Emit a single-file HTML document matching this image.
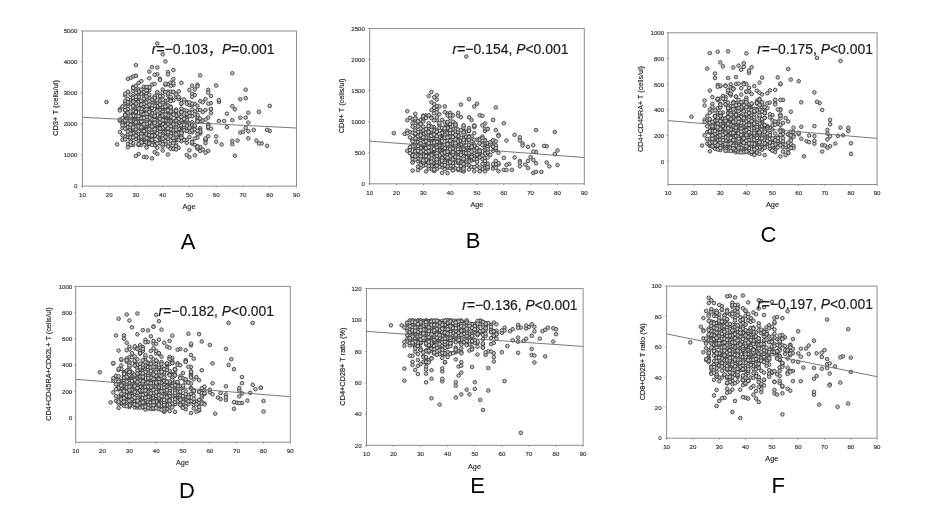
<!DOCTYPE html>
<html><head><meta charset="utf-8"><title>Figure</title>
<style>
html,body{margin:0;padding:0;background:#fff;}
body{width:950px;height:532px;overflow:hidden;}
svg{display:block;}
.tk{font-family:"Liberation Sans", Arial, Helvetica, sans-serif;font-size:6.1px;fill:#383838;stroke:#383838;stroke-width:0.18px;}
.al{font-family:"Liberation Sans", Arial, Helvetica, sans-serif;font-size:7.3px;fill:#2a2a2a;stroke:#2a2a2a;stroke-width:0.18px;}
.an{font-family:"Liberation Sans", Arial, Helvetica, sans-serif;font-size:14.4px;fill:#1c1c1c;stroke:#1c1c1c;stroke-width:0.2px;}
.lt{font-family:"Liberation Sans", Arial, Helvetica, sans-serif;font-size:22px;fill:#000;}
</style></head><body>
<svg width="950" height="532" viewBox="0 0 950 532">
<defs><marker id="m" markerWidth="6" markerHeight="6" refX="3" refY="3" markerUnits="userSpaceOnUse"><circle cx="3" cy="3" r="1.8" fill="#c2c2c2" stroke="#3a3a3a" stroke-width="0.85"/></marker><filter id="bl" x="-2%" y="-2%" width="104%" height="104%"><feGaussianBlur stdDeviation="0.6"/></filter></defs>
<rect width="950" height="532" fill="#fff"/>
<g id="panelA">
<g filter="url(#bl)">
<path d="M127.9 136.7L176.1 146.7L200.2 150.9L135.9 92.7L149.3 133.8L165.4 124.9L165.4 116.7L127.9 124.9L160.0 142.3L157.3 129.3L168.0 72.1L176.1 139.9L157.3 109.3L218.9 121.0L144.0 120.2L160.0 122.7L138.6 118.7L160.0 78.7L168.0 138.8L149.3 78.3L133.2 132.5L162.7 110.0L178.7 127.9L152.0 158.4L197.5 84.7L197.5 110.1L133.2 117.7L146.6 137.7L133.2 116.1L210.9 109.3L162.7 138.0L162.7 109.5L144.0 125.2L149.3 71.6L122.5 106.3L237.6 140.5L170.7 128.3L146.6 127.8L152.0 126.4L138.6 126.2L200.2 133.6L144.0 156.9L168.0 110.2L130.6 121.9L133.2 107.7L154.7 141.8L200.2 109.9L141.3 131.4L138.6 121.1L146.6 109.4L162.7 146.3L144.0 115.8L181.4 140.5L192.1 143.7L186.8 102.2L154.7 104.8L210.9 103.2L160.0 118.3L173.4 122.0L176.1 112.5L173.4 121.7L135.9 132.1L152.0 67.1L119.9 109.2L160.0 100.4L224.2 121.0L170.7 111.8L122.5 128.1L157.3 123.3L157.3 121.8L173.4 85.0L165.4 109.9L130.6 137.9L181.4 103.7L194.8 145.0L165.4 128.3L154.7 115.4L127.9 112.6L141.3 103.0L170.7 108.3L141.3 142.8L125.2 136.6L160.0 122.5L152.0 142.9L157.3 124.9L135.9 109.2L176.1 111.4L184.1 139.7L138.6 126.2L135.9 136.5L130.6 100.5L149.3 136.8L152.0 84.5L133.2 118.9L178.7 147.8L160.0 138.2L149.3 131.3L165.4 115.0L154.7 121.1L152.0 134.5L138.6 104.5L184.1 110.3L149.3 116.8L135.9 135.2L152.0 121.1L138.6 121.8L160.0 96.3L119.9 120.9L138.6 118.8L184.1 128.4L162.7 115.7L197.5 146.2L189.4 90.0L168.0 110.4L181.4 139.5L152.0 107.6L144.0 100.4L133.2 118.5L157.3 108.5L194.8 155.3L138.6 125.2L133.2 122.6L205.5 140.5L168.0 84.3L146.6 127.3L149.3 111.8L146.6 142.2L135.9 101.2L157.3 122.3L130.6 137.6L200.2 75.4L176.1 138.4L154.7 113.2L234.9 155.7L135.9 116.0L154.7 121.1L138.6 101.7L157.3 74.3L208.2 150.9L194.8 111.5L168.0 154.5L133.2 128.6L122.5 123.4L176.1 124.9L149.3 118.9L146.6 124.9L168.0 118.7L130.6 118.6L181.4 82.8L152.0 114.2L149.3 122.4L162.7 126.3L144.0 103.8L146.6 137.6L152.0 130.8L135.9 115.5L130.6 138.0L170.7 132.0L168.0 111.1L125.2 121.9L181.4 136.9L181.4 100.2L138.6 98.1L200.2 147.0L135.9 75.9L144.0 102.4L133.2 127.5L152.0 128.2L162.7 109.0L165.4 112.9L218.9 102.0L138.6 137.1L165.4 61.4L208.2 103.7L226.9 127.2L127.9 104.0L138.6 83.1L141.3 135.3L154.7 136.4L165.4 107.9L216.2 85.5L157.3 147.8L141.3 123.5L165.4 122.1L160.0 135.3L168.0 91.6L165.4 117.3L135.9 103.6L149.3 105.7L144.0 121.5L133.2 127.3L149.3 97.5L149.3 127.8L152.0 135.9L192.1 125.1L146.6 122.4L165.4 133.2L125.2 121.4L181.4 141.2L181.4 116.4L165.4 101.0L170.7 119.5L146.6 122.6L157.3 126.0L189.4 115.7L170.7 120.3L133.2 120.7L154.7 123.0L149.3 90.1L146.6 108.8L149.3 116.7L184.1 119.8L216.2 141.7L154.7 134.6L144.0 121.6L157.3 123.1L176.1 144.5L259.0 111.9L173.4 139.5L125.2 110.5L160.0 107.3L141.3 130.1L133.2 113.7L122.5 139.8L141.3 81.1L173.4 128.8L170.7 133.8L192.1 131.2L269.7 105.9L133.2 86.9L130.6 144.8L149.3 139.5L133.2 100.1L138.6 140.7L149.3 97.9L138.6 137.7L135.9 116.0L248.3 131.2L200.2 101.2L162.7 127.9L146.6 105.9L141.3 117.2L170.7 98.2L160.0 120.2L125.2 95.5L197.5 119.4L189.4 105.0L130.6 103.5L232.3 144.1L160.0 123.4L141.3 109.8L154.7 122.2L146.6 97.4L192.1 132.3L232.3 140.9L170.7 128.1L208.2 128.2L192.1 141.8L162.7 96.2L119.9 119.5L144.0 100.4L168.0 120.0L141.3 122.3L197.5 137.7L181.4 111.5L146.6 92.3L144.0 141.8L130.6 134.7L146.6 114.1L146.6 119.4L127.9 124.5L144.0 86.8L135.9 115.5L135.9 99.5L160.0 125.0L173.4 137.5L152.0 116.7L245.7 127.8L154.7 100.2L176.1 96.7L127.9 128.9L165.4 110.2L170.7 133.5L248.3 138.3L165.4 101.0L154.7 96.9L127.9 105.9L106.5 102.0L181.4 128.0L133.2 127.3L149.3 104.8L157.3 103.4L154.7 104.1L144.0 141.8L152.0 100.4L181.4 113.8L144.0 126.2L205.5 139.8L127.9 122.1L138.6 89.7L146.6 87.1L165.4 126.1L269.7 130.9L181.4 131.9L181.4 133.1L208.2 124.2L162.7 111.8L135.9 116.9L125.2 115.4L189.4 123.0L149.3 116.2L127.9 91.6L176.1 123.3L173.4 140.8L176.1 119.9L162.7 116.8L146.6 117.1L141.3 132.8L135.9 126.4L200.2 128.2L202.8 102.3L200.2 130.0L144.0 92.6L135.9 126.4L186.8 110.7L197.5 118.2L144.0 106.3L267.1 129.9L160.0 125.9L165.4 116.0L144.0 116.1L138.6 145.1L146.6 122.7L157.3 122.1L168.0 106.1L127.9 103.6L144.0 139.8L138.6 90.4L135.9 128.6L208.2 89.9L152.0 140.7L168.0 134.2L146.6 115.2L144.0 117.9L176.1 135.5L170.7 122.3L154.7 152.2L130.6 122.7L135.9 136.0L170.7 91.8L160.0 114.2L138.6 118.1L170.7 109.0L141.3 104.6L154.7 96.2L144.0 124.3L168.0 128.6L154.7 122.5L184.1 121.2L170.7 143.1L154.7 98.1L157.3 129.5L170.7 126.4L133.2 129.5L181.4 127.0L149.3 139.3L170.7 124.6L181.4 111.6L125.2 125.3L127.9 143.9L141.3 125.3L208.2 117.5L162.7 107.1L154.7 116.0L178.7 98.7L176.1 109.5L154.7 118.5L160.0 125.5L152.0 119.3L160.0 106.5L168.0 115.0L152.0 126.3L165.4 132.5L218.9 100.1L165.4 84.8L184.1 128.0L154.7 135.2L176.1 146.4L144.0 138.5L173.4 92.0L157.3 106.5L210.9 113.2L178.7 135.1L162.7 126.0L181.4 134.8L181.4 121.8L152.0 123.8L149.3 128.9L157.3 67.5L178.7 99.0L160.0 79.9L144.0 96.9L165.4 143.4L138.6 127.3L152.0 128.2L173.4 127.3L138.6 89.5L186.8 116.5L181.4 125.5L157.3 120.0L141.3 120.2L149.3 123.0L144.0 134.5L149.3 142.9L146.6 116.2L130.6 123.9L176.1 120.7L248.3 112.7L176.1 121.9L130.6 119.9L127.9 118.8L162.7 102.2L133.2 105.5L202.8 112.1L130.6 94.7L176.1 131.3L154.7 113.4L162.7 117.4L152.0 99.8L130.6 126.8L135.9 123.0L133.2 96.5L117.2 144.4L186.8 115.5L160.0 141.9L162.7 129.1L127.9 127.0L146.6 142.2L192.1 122.2L170.7 121.1L144.0 114.9L154.7 123.2L160.0 126.8L173.4 78.9L208.2 125.0L149.3 142.8L165.4 111.4L135.9 108.4L144.0 109.1L170.7 126.5L146.6 105.5L170.7 147.7L173.4 70.0L189.4 131.9L160.0 125.6L168.0 132.1L138.6 128.7L192.1 105.4L146.6 111.1L154.7 74.8L176.1 114.5L253.7 130.0L135.9 128.7L149.3 110.6L192.1 116.3L170.7 128.2L133.2 87.4L165.4 104.9L135.9 135.5L173.4 100.4L154.7 131.3L149.3 140.0L197.5 117.0L194.8 89.4L146.6 114.7L176.1 129.4L165.4 126.7L152.0 140.7L149.3 129.1L162.7 114.7L186.8 130.9L162.7 89.6L149.3 105.8L162.7 92.7L168.0 100.3L210.9 96.0L248.3 122.6L154.7 83.8L146.6 91.4L133.2 116.7L162.7 99.7L144.0 130.2L173.4 143.2L141.3 100.9L119.9 132.1L135.9 85.8L162.7 123.9L165.4 129.0L157.3 118.7L176.1 123.4L232.3 120.2L130.6 118.8L152.0 113.1L178.7 131.9L133.2 76.4L141.3 139.7L178.7 128.9L162.7 128.1L141.3 117.1L162.7 121.0L133.2 145.0L149.3 111.5L149.3 128.4L144.0 110.9L178.7 91.4L141.3 125.7L245.7 89.7L157.3 43.4L173.4 112.5L162.7 115.2L160.0 139.4L200.2 120.5L173.4 148.8L178.7 125.9L149.3 124.9L141.3 108.0L200.2 121.4L154.7 117.3L154.7 114.7L130.6 129.9L197.5 121.7L261.7 143.4L205.5 140.0L192.1 93.9L221.6 144.6L154.7 144.0L138.6 127.7L178.7 117.9L154.7 125.6L160.0 112.6L149.3 129.0L149.3 123.8L181.4 108.5L141.3 125.5L146.6 146.1L170.7 82.6L162.7 54.3L256.4 140.6L197.5 148.5L149.3 127.1L157.3 120.2L133.2 90.7L194.8 95.1L135.9 138.9L157.3 109.3L186.8 114.7L135.9 120.7L141.3 107.1L240.3 99.3L157.3 121.0L152.0 136.9L154.7 115.8L181.4 120.1L146.6 107.1L186.8 130.8L165.4 144.0L157.3 124.5L245.7 98.2L127.9 137.0L141.3 142.3L146.6 157.2L154.7 144.3L152.0 124.3L176.1 124.4L130.6 138.2L186.8 127.5L210.9 108.9L165.4 127.3L194.8 103.9L152.0 112.8L135.9 122.9L133.2 97.9L162.7 128.4L141.3 120.7L135.9 109.5L141.3 122.9L160.0 119.1L149.3 126.0L125.2 107.4L197.5 148.3L168.0 132.2L146.6 125.5L176.1 133.0L165.4 127.1L154.7 145.3L144.0 102.7L162.7 114.9L170.7 140.6L135.9 111.2L165.4 115.7L149.3 142.0L154.7 105.6L216.2 136.4L149.3 143.9L157.3 100.0L144.0 112.1L160.0 138.4L160.0 110.0L178.7 118.9L144.0 131.0L160.0 133.2L141.3 138.9L192.1 85.8L152.0 106.2L178.7 140.0L138.6 96.8L141.3 93.8L170.7 111.3L176.1 114.1L135.9 114.6L162.7 117.1L122.5 118.4L133.2 114.4L186.8 142.8L154.7 127.3L157.3 106.5L168.0 146.4L141.3 145.0L259.0 143.5L146.6 111.9L152.0 115.4L144.0 136.0L138.6 143.9L154.7 112.6L146.6 112.5L138.6 109.1L152.0 142.4L130.6 137.4L133.2 116.4L127.9 101.4L127.9 118.4L146.6 129.3L146.6 134.2L168.0 95.7L152.0 139.4L127.9 120.4L135.9 99.9L154.7 134.0L160.0 136.6L157.3 106.1L149.3 117.7L205.5 138.5L146.6 90.5L176.1 115.8L181.4 131.6L160.0 104.8L144.0 123.5L173.4 129.6L232.3 106.2L133.2 106.2L125.2 128.7L125.2 102.7L162.7 134.0L130.6 144.8L122.5 135.4L160.0 127.7L133.2 130.3L144.0 109.5L176.1 94.4L181.4 112.1L194.8 138.4L135.9 75.8L146.6 130.1L154.7 123.5L154.7 131.9L170.7 86.0L173.4 92.0L152.0 108.1L165.4 121.3L186.8 124.5L135.9 99.0L184.1 99.4L168.0 105.5L144.0 121.2L189.4 127.9L160.0 136.5L176.1 125.2L144.0 113.6L154.7 119.7L162.7 129.1L130.6 124.1L141.3 140.8L200.2 118.5L154.7 124.6L170.7 148.6L173.4 135.9L176.1 124.6L197.5 146.8L186.8 155.0L130.6 127.0L149.3 142.9L130.6 120.4L186.8 103.7L162.7 119.1L152.0 137.0L245.7 117.5L144.0 116.5L152.0 113.2L197.5 134.0L197.5 105.8L141.3 108.8L192.1 142.3L141.3 113.9L205.5 99.2L189.4 116.2L130.6 116.3L127.9 121.2L197.5 115.0L202.8 120.7L162.7 125.3L181.4 137.7L135.9 125.4L141.3 118.4L176.1 115.5L144.0 91.8L149.3 87.9L133.2 132.8L192.1 96.8L170.7 99.7L144.0 106.2L173.4 130.2L186.8 113.8L141.3 89.6L125.2 100.8L125.2 115.5L154.7 116.4L149.3 135.0L135.9 135.9L170.7 96.8L205.5 110.0L170.7 116.3L133.2 133.3L127.9 134.3L176.1 136.8L157.3 111.2L149.3 87.2L184.1 130.2L154.7 128.7L157.3 123.8L162.7 123.9L197.5 86.2L152.0 133.7L135.9 112.2L240.3 132.5L125.2 139.4L144.0 113.2L176.1 127.6L144.0 136.1L208.2 136.3L162.7 138.7L205.5 119.6L176.1 110.8L146.6 119.2L170.7 136.3L130.6 124.1L135.9 122.0L149.3 134.3L181.4 125.3L141.3 110.1L162.7 110.8L168.0 110.2L197.5 121.3L149.3 110.2L135.9 136.5L205.5 152.7L149.3 122.7L133.2 143.0L146.6 122.2L157.3 127.7L133.2 126.8L168.0 93.5L200.2 132.2L157.3 153.9L173.4 83.2L127.9 123.8L125.2 114.6L157.3 92.6L157.3 136.5L210.9 128.7L141.3 134.0L130.6 119.1L144.0 136.6L189.4 150.3L125.2 119.9L149.3 131.7L162.7 116.4L144.0 103.9L160.0 143.2L146.6 116.8L173.4 124.5L149.3 143.5L152.0 128.0L146.6 138.2L170.7 126.5L149.3 128.7L130.6 139.6L127.9 131.5L162.7 150.5L125.2 93.7L144.0 130.6L146.6 102.4L178.7 96.9L144.0 125.7L149.3 101.3L168.0 121.1L160.0 116.7L189.4 157.1L135.9 116.7L141.3 113.7L162.7 115.5L125.2 120.4L194.8 126.3L152.0 139.8L141.3 121.8L160.0 135.0L130.6 141.9L160.0 117.3L133.2 128.8L186.8 118.4L173.4 148.9L127.9 102.3L189.4 112.5L127.9 109.1L154.7 105.9L144.0 98.6L186.8 119.8L205.5 143.1L133.2 115.8L192.1 109.5L152.0 131.9L154.7 135.8L141.3 143.0L178.7 134.2L267.1 145.8L192.1 129.5L208.2 92.5L125.2 115.2L130.6 124.7L178.7 133.3L141.3 111.4L162.7 111.7L181.4 116.8L138.6 92.9L146.6 90.5L192.1 130.4L189.4 112.8L135.9 96.7L133.2 110.7L162.7 128.0L152.0 144.9L154.7 122.8L133.2 115.7L184.1 119.9L135.9 126.9L135.9 65.2L135.9 122.3L138.6 108.9L154.7 115.9L130.6 120.7L194.8 129.5L160.0 123.2L130.6 137.4L165.4 121.3L170.7 106.7L133.2 87.9L138.6 91.6L200.2 131.5L146.6 106.3L141.3 142.2L157.3 143.5L160.0 122.3L130.6 133.7L243.0 131.7L170.7 129.3L146.6 93.8L165.4 141.2L154.7 135.6L162.7 137.0L192.1 103.6L141.3 108.9L194.8 114.4L138.6 154.0L202.8 149.5L146.6 147.5L133.2 101.7L130.6 78.0L162.7 135.7L141.3 104.5L226.9 113.7L186.8 125.7L149.3 113.2L157.3 129.1L162.7 114.1L168.0 115.4L138.6 126.3L165.4 137.0L119.9 110.5L232.3 73.3L152.0 129.6L165.4 120.8L157.3 131.1L162.7 115.4L184.1 118.8L234.9 109.3L149.3 127.9L189.4 137.1L154.7 130.7L160.0 96.2L189.4 102.3L186.8 139.7L176.1 120.8L165.4 126.1L149.3 135.1L146.6 109.4L127.9 147.2L152.0 105.3L176.1 149.5L135.9 90.8L170.7 107.3L181.4 132.9L170.7 121.4L149.3 129.2L208.2 126.9L144.0 113.5L149.3 94.7L135.9 135.6L165.4 114.5L160.0 131.7L160.0 122.1L173.4 137.9L154.7 129.3L141.3 127.3L135.9 116.0L170.7 100.2L122.5 125.2L144.0 131.2L138.6 144.1L135.9 129.6L160.0 119.0L240.3 117.8L135.9 112.0L152.0 126.5L146.6 123.8L133.2 127.4L162.7 138.7L133.2 115.6L165.4 83.6L144.0 124.4L149.3 104.6L125.2 110.1L127.9 78.8L130.6 111.5L157.3 133.4L149.3 111.9L160.0 128.1L135.9 156.0L138.6 116.1L162.7 120.2L168.0 128.4L173.4 114.6L165.4 92.0L141.3 121.6L176.1 129.7L176.1 134.5L127.9 98.9L165.4 106.5L184.1 140.1L144.0 114.2L162.7 144.2L146.6 113.8L160.0 128.5L168.0 74.4L184.1 124.8L146.6 96.5L197.5 130.7L194.8 125.6L138.6 131.3L133.2 137.4L130.6 116.2L160.0 134.6L157.3 92.2L135.9 92.6L146.6 86.9L181.4 103.4L138.6 108.5L144.0 118.0L141.3 136.6L170.7 101.0L152.0 135.7L173.4 114.7" fill="none" stroke="none" marker-start="url(#m)" marker-mid="url(#m)" marker-end="url(#m)"/>
<line x1="82.4" y1="117.3" x2="296.5" y2="128.0" stroke="#6a6a6a" stroke-width="0.9"/>
<rect x="82.4" y="31.0" width="214.1" height="155.1" fill="none" stroke="#8c8c8c" stroke-width="1"/>
<path d="M82.4 186.1 v1.6 M109.2 186.1 v1.6 M135.9 186.1 v1.6 M162.7 186.1 v1.6 M189.4 186.1 v1.6 M216.2 186.1 v1.6 M243.0 186.1 v1.6 M269.7 186.1 v1.6 M296.5 186.1 v1.6 M82.4 186.1 h-1.6 M82.4 155.1 h-1.6 M82.4 124.1 h-1.6 M82.4 93.0 h-1.6 M82.4 62.0 h-1.6 M82.4 31.0 h-1.6" stroke="#8c8c8c" stroke-width="0.8" fill="none"/>
<text class="tk" x="82.4" y="196.9" text-anchor="middle">10</text><text class="tk" x="109.2" y="196.9" text-anchor="middle">20</text><text class="tk" x="135.9" y="196.9" text-anchor="middle">30</text><text class="tk" x="162.7" y="196.9" text-anchor="middle">40</text><text class="tk" x="189.4" y="196.9" text-anchor="middle">50</text><text class="tk" x="216.2" y="196.9" text-anchor="middle">60</text><text class="tk" x="243.0" y="196.9" text-anchor="middle">70</text><text class="tk" x="269.7" y="196.9" text-anchor="middle">80</text><text class="tk" x="296.5" y="196.9" text-anchor="middle">90</text>
<text class="tk" x="77.3" y="188.3" text-anchor="end">0</text><text class="tk" x="77.3" y="157.3" text-anchor="end">1000</text><text class="tk" x="77.3" y="126.3" text-anchor="end">2000</text><text class="tk" x="77.3" y="95.3" text-anchor="end">3000</text><text class="tk" x="77.3" y="64.3" text-anchor="end">4000</text><text class="tk" x="77.3" y="33.2" text-anchor="end">5000</text>
<text class="al" x="189.0" y="208.5" text-anchor="middle">Age</text>
<text class="al" transform="translate(57.6 108.0) rotate(-90)" x="-28.0" textLength="56.0" lengthAdjust="spacingAndGlyphs">CD3+ T (cells/ul)</text>
</g>
<text class="an" x="151.8" y="54.2" textLength="122.8" lengthAdjust="spacingAndGlyphs"><tspan font-style="italic">r</tspan>=−0.103<tspan lang="zh-CN" font-family='"Liberation Sans","Noto Sans CJK SC",sans-serif'>，</tspan><tspan font-style="italic">P</tspan>=0.001</text>
<text class="lt" x="188.1" y="248.8" text-anchor="middle">A</text>
</g>
<g id="panelB">
<g filter="url(#bl)">
<path d="M450.2 164.6L447.5 145.8L477.0 152.7L423.3 161.0L447.5 130.8L460.9 139.6L528.0 146.8L452.9 166.6L485.0 147.8L418.0 149.5L420.7 139.7L442.1 150.9L447.5 154.2L423.3 141.8L439.4 152.9L420.7 143.8L434.1 132.0L426.0 143.0L407.3 120.2L434.1 135.7L436.8 163.2L490.4 154.9L495.8 149.0L482.4 136.6L474.3 150.0L450.2 125.0L423.3 148.2L415.3 142.3L436.8 150.6L458.2 137.5L452.9 163.1L533.3 173.0L436.8 160.8L466.3 131.5L444.8 161.6L471.6 141.4L428.7 156.4L460.9 156.2L463.6 161.8L458.2 153.4L447.5 143.0L442.1 136.1L452.9 160.3L479.7 154.3L412.6 162.3L431.4 156.0L434.1 156.5L444.8 162.1L463.6 125.5L415.3 139.8L423.3 161.9L455.5 125.5L498.5 152.8L485.0 144.4L444.8 135.8L485.0 143.2L444.8 159.3L415.3 142.5L426.0 142.9L423.3 156.7L426.0 162.3L444.8 158.8L450.2 161.9L412.6 154.4L447.5 148.8L477.0 159.2L428.7 165.3L447.5 167.8L463.6 143.4L444.8 127.2L477.0 166.1L511.9 169.9L428.7 161.4L439.4 106.5L412.6 157.4L439.4 144.5L460.9 145.1L436.8 169.0L434.1 150.2L426.0 147.3L479.7 115.3L431.4 136.9L420.7 119.6L469.0 147.2L442.1 167.3L469.0 154.5L471.6 160.4L450.2 143.1L426.0 155.3L434.1 149.9L442.1 172.9L479.7 155.5L466.3 150.9L434.1 152.3L463.6 166.8L452.9 158.4L418.0 156.3L431.4 153.7L450.2 145.3L452.9 160.2L514.6 134.8L514.6 157.5L442.1 137.7L458.2 158.9L439.4 141.7L442.1 132.7L455.5 156.1L436.8 109.6L450.2 151.8L485.0 152.8L477.0 139.6L420.7 142.4L471.6 120.1L493.1 167.9L447.5 127.5L418.0 150.3L463.6 143.8L420.7 134.5L444.8 130.2L434.1 152.4L439.4 134.0L418.0 147.5L479.7 138.8L442.1 161.4L455.5 157.3L434.1 132.4L418.0 157.1L428.7 135.8L423.3 148.0L450.2 115.9L442.1 147.8L519.9 161.0L444.8 131.0L439.4 154.6L426.0 171.5L428.7 155.8L463.6 153.4L469.0 159.4L519.9 166.3L482.4 159.2L442.1 159.0L452.9 146.9L463.6 153.0L506.5 140.5L469.0 160.4L420.7 154.2L442.1 150.5L469.0 151.3L423.3 152.6L423.3 149.5L522.6 143.5L533.3 145.2L460.9 144.6L434.1 166.0L509.2 163.9L469.0 131.0L450.2 166.7L412.6 159.1L436.8 99.6L447.5 152.1L460.9 158.5L439.4 139.5L426.0 140.2L493.1 142.0L436.8 164.3L434.1 159.0L458.2 141.0L415.3 146.5L450.2 118.2L458.2 148.2L436.8 157.0L423.3 159.7L423.3 151.6L431.4 152.9L528.0 160.9L436.8 158.0L412.6 170.6L436.8 162.9L420.7 158.6L450.2 167.9L423.3 159.3L436.8 158.8L431.4 153.5L404.6 133.9L503.8 123.3L434.1 134.7L415.3 157.0L434.1 160.6L420.7 166.9L431.4 159.1L431.4 169.3L442.1 144.9L458.2 142.9L418.0 146.8L469.0 165.3L487.7 146.0L447.5 149.2L485.0 171.4L466.3 137.8L458.2 135.1L431.4 135.6L431.4 154.5L426.0 147.5L452.9 155.0L426.0 145.4L458.2 140.1L428.7 164.1L431.4 143.7L423.3 134.3L474.3 133.1L418.0 124.6L452.9 115.3L487.7 143.3L431.4 117.3L415.3 122.7L442.1 132.4L450.2 135.1L469.0 161.4L434.1 108.0L420.7 146.1L493.1 168.6L412.6 123.2L428.7 155.0L420.7 162.0L415.3 146.8L439.4 124.9L442.1 163.2L426.0 149.7L423.3 162.0L426.0 148.2L447.5 142.6L463.6 127.6L436.8 142.5L447.5 113.6L431.4 151.5L493.1 146.8L469.0 169.5L447.5 163.0L471.6 167.0L474.3 146.6L415.3 135.3L444.8 166.4L407.3 111.2L428.7 154.1L458.2 161.9L474.3 171.2L536.0 130.1L423.3 151.2L436.8 159.7L452.9 161.7L420.7 152.9L418.0 148.1L498.5 134.8L450.2 164.2L428.7 149.2L479.7 140.1L458.2 153.7L439.4 165.3L415.3 128.3L415.3 148.8L418.0 150.8L485.0 130.9L519.9 137.3L428.7 128.1L418.0 161.3L434.1 163.9L423.3 138.8L479.7 150.0L420.7 155.4L442.1 155.2L434.1 150.5L434.1 148.1L485.0 128.7L439.4 127.8L503.8 157.9L490.4 142.7L444.8 122.5L455.5 150.1L474.3 125.5L455.5 168.3L463.6 140.1L455.5 145.1L420.7 136.2L442.1 138.3L442.1 138.9L469.0 117.3L420.7 144.4L450.2 133.9L412.6 155.8L428.7 162.2L458.2 134.3L442.1 151.4L439.4 143.5L498.5 136.0L463.6 157.1L450.2 135.4L519.9 140.5L458.2 141.8L463.6 153.0L436.8 106.1L450.2 130.6L418.0 153.5L442.1 163.8L436.8 149.9L431.4 153.1L463.6 131.4L460.9 170.5L444.8 150.9L447.5 144.6L498.5 164.6L418.0 139.3L450.2 146.1L455.5 131.5L431.4 150.9L436.8 155.9L436.8 157.7L434.1 162.8L474.3 153.1L479.7 156.9L469.0 156.5L469.0 147.8L439.4 164.8L485.0 123.4L485.0 139.9L450.2 163.4L423.3 154.3L485.0 167.4L557.5 165.1L423.3 130.0L557.5 150.5L495.8 107.5L487.7 147.0L428.7 137.9L485.0 167.8L450.2 148.3L420.7 136.4L423.3 164.4L434.1 107.9L460.9 152.5L466.3 140.8L420.7 167.5L436.8 132.3L434.1 155.7L439.4 150.7L412.6 145.2L444.8 157.6L436.8 120.1L452.9 142.7L452.9 152.2L423.3 160.2L487.7 166.4L423.3 138.9L444.8 147.1L460.9 151.1L442.1 156.1L423.3 153.2L452.9 170.1L452.9 129.3L439.4 147.3L463.6 138.3L439.4 163.5L452.9 165.6L415.3 118.0L431.4 155.1L442.1 154.1L439.4 144.2L466.3 136.8L466.3 159.8L458.2 132.0L409.9 132.1L434.1 127.3L412.6 140.0L447.5 159.7L436.8 136.9L434.1 156.0L426.0 139.1L423.3 162.5L426.0 163.9L436.8 152.8L431.4 146.3L495.8 167.8L444.8 161.4L439.4 137.0L434.1 154.7L426.0 151.8L434.1 130.0L393.8 133.2L434.1 148.7L485.0 140.4L447.5 155.1L415.3 133.9L436.8 117.4L450.2 129.2L415.3 145.4L418.0 155.5L428.7 152.8L418.0 136.3L428.7 153.0L442.1 157.0L442.1 138.7L474.3 159.7L412.6 155.3L458.2 163.0L442.1 161.5L458.2 159.0L423.3 155.4L415.3 146.3L426.0 115.5L477.0 156.4L442.1 153.5L444.8 160.0L436.8 157.3L426.0 164.2L442.1 145.2L439.4 166.7L431.4 158.0L426.0 149.7L460.9 138.0L415.3 130.5L434.1 150.7L455.5 162.3L442.1 127.9L447.5 144.2L420.7 132.1L479.7 157.3L458.2 162.9L420.7 159.2L434.1 153.4L423.3 121.3L431.4 146.7L431.4 141.6L447.5 164.6L460.9 154.8L428.7 164.1L420.7 150.6L482.4 169.0L447.5 159.6L460.9 156.1L431.4 165.6L479.7 170.7L431.4 148.5L431.4 150.8L420.7 137.4L434.1 104.0L450.2 151.9L455.5 143.9L463.6 134.5L439.4 163.6L463.6 151.9L423.3 155.0L434.1 140.9L452.9 138.8L466.3 157.1L458.2 160.2L450.2 146.5L495.8 149.7L415.3 120.2L482.4 138.2L436.8 139.7L434.1 129.6L466.3 164.5L447.5 135.5L418.0 149.7L458.2 136.0L420.7 159.3L418.0 147.2L546.7 146.3L431.4 133.8L434.1 113.2L444.8 152.2L455.5 157.0L474.3 158.8L466.3 56.5L506.5 164.9L463.6 153.5L474.3 127.2L455.5 150.0L420.7 160.0L434.1 154.6L455.5 144.1L447.5 123.6L431.4 155.6L412.6 132.8L418.0 149.8L458.2 144.9L439.4 152.5L447.5 132.7L460.9 157.8L418.0 166.6L487.7 128.8L460.9 152.2L423.3 115.5L479.7 143.6L452.9 153.1L423.3 165.8L450.2 151.2L482.4 115.8L450.2 124.0L466.3 142.2L428.7 155.6L434.1 171.1L455.5 148.8L452.9 149.9L447.5 139.7L420.7 135.7L452.9 149.6L466.3 148.1L442.1 155.1L436.8 158.5L450.2 152.3L428.7 158.8L487.7 153.1L460.9 117.2L434.1 157.4L447.5 145.9L463.6 131.7L431.4 126.5L447.5 115.5L554.8 154.0L525.3 164.6L428.7 144.4L530.6 157.1L426.0 137.4L460.9 148.7L533.3 160.1L452.9 148.9L469.0 149.0L450.2 142.0L428.7 168.5L436.8 160.6L450.2 136.7L428.7 163.5L439.4 146.8L423.3 118.3L463.6 148.4L428.7 123.3L554.8 132.0L463.6 148.9L439.4 160.9L428.7 154.8L463.6 166.6L485.0 153.6L423.3 151.5L444.8 152.3L431.4 131.6L447.5 161.8L431.4 131.5L407.3 130.7L487.7 163.6L415.3 142.1L444.8 145.4L434.1 138.1L450.2 164.5L439.4 149.1L434.1 142.4L493.1 150.9L466.3 161.6L439.4 114.3L415.3 113.8L450.2 127.8L418.0 148.4L415.3 138.8L498.5 163.2L439.4 154.3L450.2 136.5L466.3 159.4L458.2 141.4L458.2 151.8L466.3 157.3L431.4 160.5L434.1 97.3L463.6 152.7L442.1 162.6L452.9 152.6L460.9 153.2L466.3 153.1L412.6 119.0L452.9 166.1L428.7 143.3L485.0 162.6L431.4 146.5L431.4 138.0L444.8 137.8L455.5 155.9L477.0 149.5L439.4 151.7L412.6 146.4L442.1 159.6L444.8 137.4L428.7 145.2L418.0 143.8L431.4 154.5L428.7 95.9L415.3 118.4L436.8 130.5L431.4 135.8L469.0 146.9L439.4 137.0L431.4 145.4L439.4 156.7L434.1 144.1L420.7 133.9L469.0 150.7L447.5 140.5L436.8 155.0L431.4 163.5L444.8 145.8L452.9 146.4L469.0 155.1L536.0 151.9L503.8 169.9L436.8 95.3L420.7 147.4L458.2 157.8L426.0 165.0L426.0 132.7L434.1 169.5L471.6 136.5L455.5 155.2L412.6 139.6L415.3 150.8L442.1 160.8L458.2 147.8L477.0 155.6L455.5 158.4L428.7 159.9L458.2 115.6L455.5 126.1L436.8 146.2L485.0 160.9L431.4 126.9L436.8 150.0L426.0 156.9L436.8 160.3L474.3 139.7L418.0 170.2L452.9 121.8L431.4 142.9L495.8 160.9L442.1 162.7L450.2 151.0L434.1 134.5L420.7 150.2L460.9 157.0L474.3 125.9L434.1 141.4L536.0 163.3L420.7 152.0L474.3 106.5L533.3 151.7L487.7 168.6L423.3 137.0L431.4 110.0L418.0 158.6L431.4 159.2L439.4 142.3L474.3 145.2L428.7 132.0L452.9 161.7L444.8 166.2L447.5 127.4L423.3 151.9L469.0 128.1L423.3 150.2L439.4 154.1L412.6 154.3L458.2 145.9L450.2 112.9L450.2 150.1L458.2 112.8L436.8 164.8L423.3 154.6L460.9 158.5L436.8 141.4L442.1 159.4L452.9 154.7L431.4 150.0L471.6 147.3L474.3 144.5L450.2 130.0L423.3 159.3L423.3 159.1L495.8 141.4L469.0 145.0L469.0 151.1L423.3 143.7L477.0 154.7L431.4 147.5L444.8 132.8L452.9 161.1L522.6 145.6L460.9 140.7L431.4 159.7L423.3 118.0L442.1 134.0L420.7 155.2L482.4 163.9L490.4 144.4L458.2 129.4L463.6 159.3L452.9 143.6L447.5 133.2L418.0 126.5L428.7 152.6L420.7 159.0L469.0 154.4L447.5 147.2L460.9 158.1L444.8 165.2L431.4 102.3L452.9 158.1L428.7 152.8L541.4 172.0L546.7 162.5L426.0 148.2L450.2 151.3L439.4 153.7L418.0 134.4L479.7 167.6L458.2 170.1L455.5 135.3L458.2 161.7L487.7 167.0L490.4 142.2L477.0 159.3L495.8 145.4L450.2 165.5L450.2 150.8L409.9 149.5L434.1 130.7L420.7 148.1L439.4 145.7L426.0 155.6L469.0 136.0L418.0 131.9L487.7 129.1L423.3 116.3L549.4 166.3L474.3 167.1L474.3 145.9L442.1 134.8L434.1 141.9L436.8 149.9L458.2 158.9L428.7 147.3L436.8 131.8L436.8 112.4L444.8 134.6L409.9 117.8L439.4 154.2L444.8 156.6L458.2 160.5L450.2 133.1L436.8 154.7L463.6 171.5L450.2 115.3L471.6 155.0L447.5 144.0L426.0 151.4L452.9 159.5L409.9 137.4L431.4 118.1L460.9 166.3L444.8 106.4L434.1 159.7L452.9 163.0L407.3 150.8L439.4 162.2L436.8 160.3L463.6 140.8L477.0 151.4L426.0 117.5L463.6 125.4L463.6 163.6L431.4 155.4L412.6 162.5L458.2 168.9L418.0 149.4L463.6 132.3L450.2 150.8L444.8 112.1L431.4 158.4L442.1 162.0L479.7 152.9L436.8 163.1L426.0 151.8L409.9 150.2L482.4 155.5L455.5 149.7L447.5 150.0L418.0 142.0L474.3 150.1L469.0 153.2L431.4 165.9L447.5 148.3L498.5 171.1L463.6 170.2L442.1 153.6L447.5 163.6L482.4 140.9L442.1 159.9L444.8 161.0L420.7 124.1L450.2 140.7L442.1 155.5L444.8 144.8L442.1 157.5L485.0 157.8L423.3 144.0L428.7 162.6L450.2 144.5L485.0 149.7L418.0 121.3L479.7 151.4L444.8 148.1L423.3 154.1L442.1 158.2L442.1 133.9L426.0 129.1L434.1 151.0L431.4 161.7L493.1 140.1L431.4 92.0L418.0 151.3L447.5 166.3L482.4 143.7L447.5 145.3L495.8 130.1L415.3 133.5L469.0 130.7L455.5 123.4L420.7 142.9L450.2 146.2L447.5 144.2L439.4 143.5L418.0 148.7L463.6 142.4L431.4 142.8L428.7 141.6L444.8 169.3L423.3 141.7L442.1 153.6L436.8 138.2L447.5 128.0L469.0 137.5L482.4 125.3L455.5 156.7L423.3 150.7L442.1 119.7L469.0 99.2L450.2 162.1L436.8 150.3L436.8 161.7L420.7 128.5L439.4 123.1L444.8 162.7L423.3 144.2L436.8 141.9L415.3 159.6L418.0 136.5L444.8 137.7L428.7 126.0L423.3 126.5L471.6 146.0L452.9 170.3L452.9 150.0L493.1 119.9L442.1 164.7L458.2 145.9L450.2 155.0L439.4 155.5L487.7 152.3L447.5 137.5L439.4 145.0L436.8 145.7L423.3 162.3L493.1 146.6L479.7 171.3L455.5 145.4L447.5 158.2L428.7 166.1L528.0 168.0L415.3 138.4L479.7 151.0L428.7 115.3L426.0 118.0L420.7 153.8L442.1 132.2L420.7 140.9L428.7 153.0L444.8 128.3L458.2 147.3L455.5 124.9L420.7 164.9L479.7 143.4L407.3 133.3L436.8 156.0L463.6 156.5L495.8 164.1L442.1 146.6L450.2 156.3L450.2 147.6L423.3 155.6L487.7 157.5L434.1 149.9L460.9 166.1L436.8 137.3L428.7 157.4L477.0 148.0L420.7 151.9L493.1 164.2L536.0 171.8L460.9 154.9L495.8 148.1L436.8 138.3L415.3 151.3L482.4 145.1L477.0 103.8L463.6 168.6L428.7 147.7L409.9 147.1L471.6 156.9L434.1 142.6L434.1 148.9L469.0 137.2L477.0 161.9L455.5 139.3L423.3 142.0L447.5 173.1L418.0 145.9L420.7 135.4L452.9 136.9L471.6 147.0L428.7 147.8L444.8 165.2L447.5 122.2L412.6 126.6L426.0 141.3L426.0 159.9L436.8 136.1L544.1 145.9L436.8 162.1L455.5 143.3L452.9 133.1L428.7 143.0L412.6 155.3L463.6 139.9L426.0 149.6L458.2 157.3L452.9 154.4L434.1 169.5L428.7 152.1L428.7 156.7L442.1 132.9L436.8 159.3L471.6 156.8L418.0 155.5L460.9 130.2L460.9 104.6L455.5 134.9L442.1 160.6L447.5 157.7L420.7 155.4L506.5 170.1L442.1 141.0L463.6 158.9L450.2 149.2L426.0 151.8L434.1 120.5L409.9 153.2L439.4 133.9L426.0 156.2L418.0 150.8L452.9 148.1L426.0 148.2L423.3 137.3L439.4 146.6L439.4 146.1L436.8 145.6L458.2 149.0L415.3 156.3L436.8 153.3L444.8 152.4L420.7 156.4L519.9 162.6L452.9 152.1L469.0 139.9L423.3 160.4L431.4 129.9L420.7 143.3L471.6 151.5L463.6 163.9L428.7 147.3L436.8 165.7L447.5 151.7L436.8 147.1L412.6 141.4L487.7 149.3L428.7 151.2L447.5 122.1" fill="none" stroke="none" marker-start="url(#m)" marker-mid="url(#m)" marker-end="url(#m)"/>
<line x1="369.7" y1="141.1" x2="584.3" y2="157.5" stroke="#6a6a6a" stroke-width="0.9"/>
<rect x="369.7" y="28.6" width="214.6" height="155.2" fill="none" stroke="#8c8c8c" stroke-width="1"/>
<path d="M369.7 183.8 v1.6 M396.5 183.8 v1.6 M423.3 183.8 v1.6 M450.2 183.8 v1.6 M477.0 183.8 v1.6 M503.8 183.8 v1.6 M530.6 183.8 v1.6 M557.5 183.8 v1.6 M584.3 183.8 v1.6 M369.7 183.8 h-1.6 M369.7 152.8 h-1.6 M369.7 121.7 h-1.6 M369.7 90.7 h-1.6 M369.7 59.6 h-1.6 M369.7 28.6 h-1.6" stroke="#8c8c8c" stroke-width="0.8" fill="none"/>
<text class="tk" x="369.7" y="194.6" text-anchor="middle">10</text><text class="tk" x="396.5" y="194.6" text-anchor="middle">20</text><text class="tk" x="423.3" y="194.6" text-anchor="middle">30</text><text class="tk" x="450.2" y="194.6" text-anchor="middle">40</text><text class="tk" x="477.0" y="194.6" text-anchor="middle">50</text><text class="tk" x="503.8" y="194.6" text-anchor="middle">60</text><text class="tk" x="530.6" y="194.6" text-anchor="middle">70</text><text class="tk" x="557.5" y="194.6" text-anchor="middle">80</text><text class="tk" x="584.3" y="194.6" text-anchor="middle">90</text>
<text class="tk" x="364.9" y="186.1" text-anchor="end">0</text><text class="tk" x="364.9" y="155.0" text-anchor="end">500</text><text class="tk" x="364.9" y="124.0" text-anchor="end">1000</text><text class="tk" x="364.9" y="92.9" text-anchor="end">1500</text><text class="tk" x="364.9" y="61.9" text-anchor="end">2000</text><text class="tk" x="364.9" y="30.8" text-anchor="end">2500</text>
<text class="al" x="476.9" y="207.0" text-anchor="middle">Age</text>
<text class="al" transform="translate(344.4 105.8) rotate(-90)" x="-27.4" textLength="54.7" lengthAdjust="spacingAndGlyphs">CD8+ T (cells/ul)</text>
</g>
<text class="an" x="452.6" y="53.8" textLength="115.9" lengthAdjust="spacingAndGlyphs"><tspan font-style="italic">r</tspan>=−0.154, <tspan font-style="italic">P</tspan>&lt;0.001</text>
<text class="lt" x="473.0" y="248.0" text-anchor="middle">B</text>
</g>
<g id="panelC">
<g filter="url(#bl)">
<path d="M712.4 136.0L720.3 113.7L736.0 130.7L775.2 122.5L777.8 137.5L715.0 130.4L722.9 133.9L720.3 137.4L736.0 142.0L738.6 136.5L720.3 139.3L756.9 145.4L743.8 142.7L741.2 124.9L736.0 125.0L788.2 134.5L722.9 121.7L741.2 69.8L746.4 126.7L733.3 136.4L743.8 101.6L725.5 96.8L788.2 134.2L733.3 126.0L717.7 140.6L756.9 90.7L764.7 140.9L717.7 133.3L725.5 127.1L725.5 126.9L762.1 147.2L720.3 131.5L751.6 141.8L759.5 138.3L720.3 133.2L720.3 98.6L759.5 109.6L728.1 92.4L709.8 146.0L741.2 137.3L725.5 101.8L767.3 135.4L730.7 94.4L736.0 103.3L707.2 68.6L733.3 108.0L715.0 138.0L730.7 109.2L751.6 136.5L746.4 137.4L720.3 146.7L746.4 91.7L772.5 115.3L733.3 142.0L759.5 133.7L736.0 143.1L733.3 138.3L722.9 137.2L749.0 72.8L746.4 124.2L743.8 140.4L728.1 138.6L741.2 119.6L827.4 133.6L712.4 146.6L738.6 116.7L759.5 125.7L738.6 129.6L814.4 136.1L767.3 103.3L712.4 138.4L746.4 131.1L741.2 145.7L738.6 122.7L730.7 121.6L751.6 104.2L730.7 143.4L715.0 122.3L746.4 147.0L730.7 138.0L759.5 147.8L783.0 123.0L722.9 130.6L709.8 109.5L725.5 138.5L715.0 131.6L725.5 143.1L733.3 128.2L733.3 133.6L775.2 145.7L709.8 144.9L754.3 112.1L749.0 140.1L759.5 125.9L722.9 132.4L746.4 150.7L780.4 156.4L738.6 110.0L725.5 128.2L764.7 129.3L725.5 131.0L827.4 139.4L769.9 102.6L830.1 146.2L764.7 126.4L749.0 142.9L741.2 126.7L759.5 127.5L756.9 132.6L717.7 135.0L769.9 137.2L743.8 149.9L780.4 115.9L715.0 131.9L717.7 113.0L733.3 124.0L720.3 147.9L736.0 113.8L738.6 145.6L746.4 122.4L712.4 145.7L764.7 111.6L749.0 121.4L764.7 147.4L762.1 149.7L738.6 138.0L769.9 90.4L733.3 141.0L725.5 141.7L759.5 112.9L712.4 103.8L741.2 115.4L746.4 115.0L717.7 98.9L728.1 135.9L730.7 84.3L720.3 149.0L764.7 137.9L764.7 135.3L746.4 119.4L715.0 136.5L736.0 137.3L730.7 132.6L733.3 132.9L780.4 143.8L728.1 145.0L738.6 148.7L743.8 129.4L736.0 77.0L717.7 100.0L762.1 107.2L788.2 149.7L798.7 81.2L704.6 119.7L707.2 143.6L743.8 123.2L743.8 136.3L759.5 116.5L749.0 131.2L707.2 115.7L751.6 136.2L720.3 116.4L754.3 127.7L717.7 108.2L728.1 149.0L746.4 117.7L783.0 133.3L730.7 87.5L730.7 141.2L769.9 148.8L736.0 83.9L733.3 67.5L762.1 126.3L793.5 127.7L728.1 131.0L801.3 102.3L722.9 135.9L741.2 145.5L717.7 51.7L743.8 147.3L780.4 115.6L720.3 140.9L738.6 115.9L743.8 145.6L722.9 123.1L783.0 143.6L746.4 144.9L803.9 156.4L775.2 150.0L709.8 90.6L777.8 121.6L764.7 107.7L722.9 121.8L759.5 133.5L749.0 70.6L717.7 138.4L712.4 110.8L720.3 138.8L715.0 124.2L762.1 122.9L728.1 127.8L762.1 121.1L743.8 143.2L717.7 140.2L788.2 69.0L738.6 128.6L743.8 133.4L733.3 88.3L736.0 141.9L720.3 113.8L720.3 115.9L717.7 142.0L746.4 97.8L759.5 98.9L743.8 83.5L775.2 102.7L712.4 132.4L759.5 125.5L709.8 144.0L728.1 109.1L736.0 130.4L788.2 145.9L798.7 134.2L741.2 106.9L712.4 126.2L720.3 113.1L728.1 133.0L725.5 144.9L759.5 131.9L733.3 118.8L738.6 126.6L738.6 83.6L843.1 135.3L814.4 126.1L762.1 120.2L762.1 126.1L738.6 135.4L733.3 136.5L783.0 99.9L772.5 142.8L777.8 123.8L733.3 120.7L736.0 146.8L738.6 100.0L722.9 132.4L720.3 86.1L712.4 106.8L709.8 151.3L769.9 127.9L733.3 89.4L736.0 150.0L712.4 128.3L741.2 103.7L783.0 144.6L790.8 138.9L759.5 135.4L749.0 147.2L709.8 131.9L751.6 153.7L722.9 142.0L722.9 138.8L767.3 126.1L775.2 138.1L725.5 126.1L746.4 125.0L759.5 82.6L733.3 117.4L712.4 123.6L793.5 135.2L728.1 130.8L783.0 132.9L741.2 127.2L806.5 141.2L746.4 131.2L751.6 115.5L746.4 128.7L725.5 122.1L775.2 104.5L840.5 127.6L749.0 105.6L720.3 126.9L743.8 133.9L759.5 146.3L715.0 123.2L736.0 136.2L715.0 78.1L754.3 148.1L736.0 137.6L780.4 118.4L733.3 101.9L741.2 140.6L775.2 124.1L767.3 143.8L722.9 112.6L717.7 138.7L769.9 134.9L741.2 110.1L730.7 120.7L728.1 143.5L772.5 146.3L743.8 117.9L736.0 152.3L751.6 132.9L720.3 116.2L738.6 151.7L733.3 150.6L717.7 122.0L738.6 139.3L730.7 145.8L722.9 119.9L715.0 142.3L746.4 140.0L715.0 148.6L717.7 99.4L751.6 108.7L764.7 117.8L738.6 133.3L759.5 123.7L777.8 139.6L728.1 142.5L790.8 79.6L736.0 138.0L712.4 127.9L733.3 117.1L733.3 88.9L749.0 135.1L738.6 132.9L749.0 125.1L717.7 84.9L738.6 128.0L769.9 114.3L720.3 113.9L722.9 131.0L730.7 108.1L751.6 124.4L777.8 147.4L728.1 130.7L759.5 148.8L722.9 118.6L749.0 110.2L715.0 145.8L704.6 100.5L759.5 118.4L717.7 134.4L754.3 151.6L730.7 95.5L743.8 139.9L717.7 143.4L733.3 117.2L717.7 115.7L725.5 98.9L730.7 143.0L730.7 122.4L717.7 128.9L715.0 140.1L762.1 119.0L749.0 152.5L736.0 149.4L722.9 125.1L749.0 141.1L743.8 150.9L725.5 134.5L712.4 141.0L707.2 132.1L743.8 117.0L772.5 139.9L769.9 140.8L754.3 146.6L743.8 142.6L720.3 121.0L722.9 132.0L743.8 126.0L733.3 131.1L712.4 146.2L743.8 135.6L785.6 118.1L728.1 139.0L743.8 120.7L790.8 133.8L738.6 144.1L777.8 142.9L754.3 144.5L751.6 115.4L814.4 143.6L717.7 135.2L728.1 131.7L746.4 142.0L712.4 97.1L725.5 132.7L741.2 135.9L722.9 124.5L738.6 142.1L746.4 151.4L743.8 138.7L741.2 125.9L720.3 126.9L738.6 145.1L801.3 126.8L736.0 143.0L848.3 131.0L759.5 147.5L720.3 139.2L751.6 108.7L751.6 145.0L715.0 122.0L746.4 150.3L730.7 106.2L746.4 114.3L754.3 129.0L717.7 140.3L767.3 127.1L741.2 115.6L730.7 123.5L709.8 53.1L741.2 133.2L743.8 142.8L715.0 133.6L728.1 112.9L715.0 140.3L759.5 133.9L728.1 144.9L769.9 133.1L756.9 103.7L730.7 121.2L733.3 131.2L733.3 102.9L830.1 136.4L775.2 89.9L790.8 136.1L725.5 142.2L722.9 136.7L733.3 134.7L756.9 142.5L809.1 135.5L749.0 104.6L819.6 103.2L759.5 143.8L741.2 88.3L717.7 98.9L728.1 140.8L749.0 128.0L741.2 145.3L764.7 155.1L780.4 99.9L728.1 142.7L704.6 135.3L749.0 133.3L728.1 144.9L738.6 121.1L749.0 150.2L756.9 122.4L715.0 145.0L725.5 128.2L769.9 146.0L730.7 123.8L725.5 137.6L733.3 128.0L746.4 101.7L709.8 123.6L736.0 139.6L717.7 128.3L733.3 140.0L738.6 140.1L777.8 141.1L738.6 130.2L722.9 134.9L728.1 119.0L759.5 138.6L738.6 137.2L741.2 105.5L736.0 136.7L756.9 126.6L717.7 147.5L749.0 139.4L738.6 128.9L730.7 116.7L730.7 140.2L754.3 142.6L717.7 129.3L848.3 127.8L767.3 108.2L728.1 125.1L743.8 133.0L746.4 140.9L738.6 142.4L814.4 92.4L730.7 93.7L738.6 135.4L790.8 111.7L736.0 106.2L756.9 100.9L775.2 138.0L730.7 118.9L730.7 134.8L762.1 94.4L709.8 143.0L720.3 120.1L754.3 149.2L741.2 94.6L762.1 77.7L736.0 132.5L788.2 153.0L746.4 139.2L822.2 110.0L720.3 107.3L720.3 138.7L749.0 137.9L754.3 120.9L756.9 133.7L790.8 143.7L728.1 144.9L720.3 113.7L736.0 131.2L733.3 141.2L738.6 130.4L736.0 110.7L746.4 100.0L775.2 133.5L709.8 132.8L730.7 123.3L751.6 94.0L717.7 137.0L743.8 126.8L772.5 143.3L743.8 111.0L738.6 146.3L756.9 152.5L749.0 91.4L746.4 125.6L717.7 123.6L769.9 143.6L743.8 139.8L743.8 138.1L720.3 144.5L728.1 142.7L793.5 145.9L780.4 114.5L733.3 113.3L715.0 115.9L754.3 143.8L720.3 150.1L715.0 120.8L756.9 109.2L730.7 132.7L736.0 148.5L743.8 124.2L741.2 121.6L754.3 154.2L733.3 136.5L725.5 147.2L749.0 142.8L733.3 150.2L851.0 143.3L691.5 116.7L722.9 138.1L728.1 136.2L717.7 137.2L788.2 121.5L715.0 73.5L712.4 139.8L756.9 135.0L715.0 133.9L736.0 96.7L777.8 77.4L720.3 136.9L767.3 127.3L780.4 109.3L746.4 129.8L749.0 142.7L725.5 126.5L749.0 148.1L743.8 152.4L730.7 122.6L728.1 126.7L725.5 120.1L780.4 109.9L751.6 118.5L709.8 138.8L730.7 139.5L717.7 132.7L704.6 105.5L730.7 123.7L749.0 117.3L717.7 146.1L736.0 146.2L746.4 124.8L756.9 129.5L751.6 143.8L783.0 144.4L749.0 142.7L762.1 138.4L749.0 107.0L764.7 140.3L769.9 148.4L746.4 151.5L759.5 142.0L754.3 108.9L754.3 124.5L762.1 104.3L738.6 133.1L733.3 107.9L736.0 150.3L756.9 140.3L754.3 146.8L743.8 142.4L785.6 155.1L728.1 135.6L730.7 133.4L720.3 132.8L736.0 116.0L751.6 103.5L746.4 53.4L717.7 138.2L717.7 149.5L780.4 84.3L720.3 107.3L772.5 139.4L830.1 119.9L736.0 140.0L780.4 124.9L764.7 113.2L722.9 141.4L730.7 128.4L725.5 118.3L717.7 137.1L759.5 153.9L754.3 119.0L772.5 120.4L783.0 130.7L722.9 143.6L725.5 127.6L741.2 124.8L728.1 127.7L746.4 119.5L743.8 111.3L775.2 121.6L754.3 135.4L733.3 106.3L720.3 124.2L728.1 78.0L783.0 147.2L733.3 138.5L712.4 142.0L754.3 126.4L837.9 135.9L759.5 100.5L741.2 128.1L715.0 137.8L741.2 117.0L769.9 135.2L762.1 102.3L733.3 131.2L728.1 148.5L736.0 126.9L793.5 136.8L730.7 145.2L764.7 125.8L764.7 132.0L738.6 118.3L733.3 121.9L754.3 155.0L730.7 146.3L728.1 113.3L827.4 147.7L822.2 145.2L790.8 140.5L733.3 129.8L764.7 125.0L738.6 151.8L746.4 135.5L743.8 131.1L793.5 148.2L783.0 141.1L759.5 92.7L746.4 84.0L733.3 132.4L730.7 124.2L759.5 141.4L715.0 120.7L738.6 110.0L725.5 147.4L733.3 134.4L743.8 107.1L754.3 86.1L712.4 135.6L775.2 144.4L788.2 152.7L762.1 111.5L725.5 126.9L720.3 85.6L712.4 127.3L722.9 139.9L728.1 117.9L717.7 86.8L769.9 117.5L707.2 120.5L717.7 120.8L730.7 93.7L715.0 145.5L733.3 133.5L725.5 147.5L764.7 133.0L717.7 140.4L751.6 145.4L783.0 133.9L728.1 150.7L754.3 145.6L733.3 143.7L709.8 132.1L759.5 115.2L749.0 129.2L730.7 138.1L741.2 102.2L751.6 141.7L741.2 132.0L733.3 149.2L746.4 91.6L759.5 99.6L722.9 136.2L749.0 108.3L751.6 136.9L743.8 83.0L743.8 105.2L777.8 140.7L759.5 131.5L709.8 130.0L730.7 130.3L736.0 140.4L720.3 116.0L780.4 135.0L715.0 138.7L728.1 136.5L730.7 110.9L702.0 145.6L746.4 144.9L736.0 130.1L801.3 138.8L756.9 136.1L733.3 112.1L725.5 126.5L720.3 135.3L715.0 144.9L720.3 128.2L728.1 138.6L717.7 120.2L780.4 129.6L725.5 131.3L764.7 107.1L746.4 133.1L746.4 130.2L764.7 130.5L785.6 146.9L712.4 130.8L722.9 140.2L733.3 147.1L720.3 142.3L754.3 131.0L725.5 145.6L743.8 66.8L725.5 104.8L746.4 137.2L754.3 136.7L730.7 132.7L772.5 125.1L715.0 141.8L741.2 147.9L751.6 139.6L756.9 102.5L728.1 106.3L809.1 142.1L759.5 132.5L798.7 132.8L814.4 140.7L749.0 140.3L751.6 122.1L722.9 141.7L704.6 121.9L840.5 60.9L712.4 131.3L764.7 125.0L751.6 151.8L746.4 125.1L790.8 131.9L725.5 140.4L733.3 144.0L738.6 111.0L754.3 117.2L725.5 104.4L725.5 85.4L775.2 99.8L746.4 121.4L715.0 110.3L736.0 145.7L772.5 129.5L775.2 140.2L730.7 148.2L720.3 129.1L736.0 136.0L725.5 133.1L725.5 148.9L725.5 126.0L725.5 150.9L712.4 126.0L764.7 113.0L767.3 141.6L756.9 103.0L777.8 138.1L824.8 145.5L754.3 125.0L827.4 129.9L790.8 135.4L741.2 134.1L754.3 114.4L754.3 128.0L756.9 139.9L730.7 140.3L715.0 140.6L783.0 138.1L733.3 109.3L725.5 128.7L749.0 109.7L746.4 140.8L767.3 93.3L720.3 62.4L743.8 84.4L725.5 118.4L717.7 123.8L722.9 126.0L756.9 148.0L730.7 113.3L749.0 143.4L822.2 151.6L772.5 150.4L725.5 137.3L736.0 96.5L728.1 108.0L754.3 137.9L751.6 67.3L741.2 108.9L733.3 126.3L709.8 112.7L715.0 116.8L730.7 137.9L754.3 112.1L712.4 138.9L725.5 86.1L733.3 146.5L764.7 134.2L741.2 107.3L754.3 139.7L754.3 123.6L746.4 144.3L830.1 124.3L790.8 148.0L717.7 117.5L746.4 102.4L709.8 120.9L767.3 133.4L754.3 144.0L722.9 96.1L738.6 149.2L712.4 126.2L720.3 136.8L736.0 130.3L722.9 137.3L707.2 139.0L785.6 144.6L720.3 146.2L769.9 145.8L780.4 83.5L712.4 146.3L738.6 135.8L775.2 152.0L764.7 144.3L730.7 151.0L722.9 98.7L769.9 142.5L733.3 145.7L817.0 57.9L738.6 140.9L738.6 131.3L851.0 153.9L756.9 110.4L759.5 105.1L728.1 130.5L749.0 119.8L728.1 122.9L743.8 118.2L728.1 116.0L767.3 129.2L835.3 143.6L749.0 124.8L730.7 125.2L749.0 87.7L764.7 118.0L783.0 151.6L741.2 128.7L738.6 133.3L738.6 65.7L733.3 126.3L751.6 143.6L775.2 124.8L715.0 116.2L764.7 129.8L777.8 109.5L767.3 140.8L751.6 110.2L741.2 132.7L720.3 140.1L764.7 143.3L720.3 148.1L720.3 142.8L749.0 132.2L707.2 126.3L743.8 123.2L730.7 129.6L756.9 135.7L709.8 122.9L738.6 118.7L780.4 145.1L709.8 131.2L736.0 114.9L709.8 119.2L754.3 110.9L772.5 145.2L764.7 131.8L722.9 66.3L720.3 103.8L743.8 63.2L769.9 138.9L738.6 133.2L764.7 147.9L728.1 90.2L754.3 134.5L756.9 137.9L733.3 140.9L717.7 144.8L712.4 122.0L736.0 127.7L728.1 51.3L730.7 142.5L743.8 145.4L728.1 102.5L725.5 128.5L780.4 115.7L720.3 104.6L738.6 148.0L738.6 138.7L746.4 135.1L728.1 144.1L746.4 147.5L738.6 108.0L754.3 149.5L725.5 143.9L741.2 122.9L730.7 143.5L793.5 132.0L743.8 142.8L738.6 105.0L728.1 122.9L749.0 143.6L728.1 131.3L751.6 121.1L756.9 125.0L738.6 122.0L715.0 141.7L772.5 150.6L749.0 113.0L741.2 152.4L728.1 123.8L725.5 120.8L754.3 133.1L817.0 101.8L728.1 130.3L715.0 142.7L715.0 131.2L720.3 121.2L746.4 107.1L733.3 140.2L717.7 127.4L772.5 138.5L788.2 142.5L759.5 142.3L733.3 132.9L756.9 137.9L720.3 135.4L746.4 146.3L722.9 134.8L756.9 127.1L730.7 114.7L780.4 131.1L720.3 112.6L722.9 140.1L733.3 148.3L728.1 128.3L741.2 131.6L741.2 134.9L743.8 138.3L736.0 105.3L728.1 117.2" fill="none" stroke="none" marker-start="url(#m)" marker-mid="url(#m)" marker-end="url(#m)"/>
<line x1="668.0" y1="120.6" x2="877.1" y2="138.4" stroke="#6a6a6a" stroke-width="0.9"/>
<rect x="668.0" y="32.8" width="209.1" height="151.7" fill="none" stroke="#8c8c8c" stroke-width="1"/>
<path d="M668.0 184.5 v1.6 M694.1 184.5 v1.6 M720.3 184.5 v1.6 M746.4 184.5 v1.6 M772.5 184.5 v1.6 M798.7 184.5 v1.6 M824.8 184.5 v1.6 M851.0 184.5 v1.6 M877.1 184.5 v1.6 M668.0 161.3 h-1.6 M668.0 135.6 h-1.6 M668.0 109.9 h-1.6 M668.0 84.2 h-1.6 M668.0 58.5 h-1.6 M668.0 32.8 h-1.6" stroke="#8c8c8c" stroke-width="0.8" fill="none"/>
<text class="tk" x="668.0" y="195.3" text-anchor="middle">10</text><text class="tk" x="694.1" y="195.3" text-anchor="middle">20</text><text class="tk" x="720.3" y="195.3" text-anchor="middle">30</text><text class="tk" x="746.4" y="195.3" text-anchor="middle">40</text><text class="tk" x="772.5" y="195.3" text-anchor="middle">50</text><text class="tk" x="798.7" y="195.3" text-anchor="middle">60</text><text class="tk" x="824.8" y="195.3" text-anchor="middle">70</text><text class="tk" x="851.0" y="195.3" text-anchor="middle">80</text><text class="tk" x="877.1" y="195.3" text-anchor="middle">90</text>
<text class="tk" x="664.1" y="163.6" text-anchor="end">0</text><text class="tk" x="664.1" y="137.9" text-anchor="end">200</text><text class="tk" x="664.1" y="112.2" text-anchor="end">400</text><text class="tk" x="664.1" y="86.5" text-anchor="end">600</text><text class="tk" x="664.1" y="60.8" text-anchor="end">800</text><text class="tk" x="664.1" y="35.1" text-anchor="end">1000</text>
<text class="al" x="772.5" y="207.0" text-anchor="middle">Age</text>
<text class="al" transform="translate(642.8 108.9) rotate(-90)" x="-43.0" textLength="85.9" lengthAdjust="spacingAndGlyphs">CD4+CD45RA+ T (cells/ul)</text>
</g>
<text class="an" x="757.2" y="54.0" textLength="115.7" lengthAdjust="spacingAndGlyphs"><tspan font-style="italic">r</tspan>=−0.175, <tspan font-style="italic">P</tspan>&lt;0.001</text>
<text class="lt" x="768.5" y="241.5" text-anchor="middle">C</text>
</g>
<g id="panelD">
<g filter="url(#bl)">
<path d="M150.8 389.9L132.0 396.5L172.3 374.2L134.7 378.4L145.4 393.2L199.1 334.1L150.8 409.0L180.3 395.2L134.7 361.7L161.5 409.3L142.8 387.2L126.7 383.9L142.8 393.6L191.0 393.9L180.3 386.0L177.6 398.0L191.0 371.3L148.1 379.8L156.2 366.9L150.8 382.5L175.0 368.9L124.0 391.7L129.4 372.8L185.7 391.3L124.0 397.6L183.0 378.3L140.1 400.3L129.4 406.0L124.0 379.7L115.9 400.9L142.8 380.5L196.4 401.6L158.9 369.4L164.2 392.7L164.2 412.0L132.0 396.3L137.4 382.5L121.3 394.9L150.8 369.9L126.7 361.8L239.3 390.3L126.7 359.6L191.0 387.9L126.7 385.6L172.3 375.5L191.0 374.3L158.9 365.1L169.6 383.8L140.1 382.4L191.0 383.6L164.2 394.6L161.5 382.7L156.2 403.4L150.8 391.0L140.1 391.6L132.0 395.0L153.5 382.8L140.1 402.3L199.1 410.6L169.6 403.5L134.7 405.6L166.9 395.9L158.9 375.2L132.0 383.4L126.7 374.8L148.1 364.6L153.5 391.8L140.1 405.4L158.9 407.3L166.9 403.5L148.1 384.1L156.2 393.7L239.3 396.4L118.6 388.5L129.4 390.3L115.9 377.0L191.0 388.8L118.6 370.0L129.4 392.3L126.7 381.9L220.6 393.0L145.4 407.3L121.3 368.9L148.1 389.0L121.3 385.4L124.0 398.9L142.8 393.9L150.8 386.3L124.0 388.9L134.7 399.9L140.1 378.7L158.9 397.6L129.4 320.5L169.6 373.9L132.0 390.2L185.7 350.2L140.1 399.0L145.4 382.2L132.0 372.5L150.8 381.4L142.8 372.6L126.7 403.4L201.8 397.5L153.5 343.4L118.6 389.4L145.4 375.2L180.3 349.0L129.4 370.2L137.4 402.1L126.7 377.1L126.7 397.7L172.3 375.7L180.3 392.6L153.5 395.5L185.7 381.1L142.8 367.8L142.8 351.0L137.4 384.0L199.1 403.1L124.0 396.8L140.1 383.9L132.0 353.2L142.8 366.8L118.6 388.7L172.3 358.0L145.4 400.7L175.0 384.7L201.8 341.5L140.1 396.0L209.8 344.9L188.4 333.7L118.6 387.0L150.8 384.0L134.7 398.1L121.3 396.9L145.4 386.6L148.1 392.1L132.0 392.0L113.3 380.6L124.0 395.8L185.7 402.1L204.5 403.6L137.4 379.4L142.8 385.0L140.1 392.6L188.4 398.5L145.4 395.9L150.8 364.1L142.8 387.5L148.1 389.3L148.1 400.6L129.4 371.9L153.5 399.8L142.8 330.2L137.4 367.3L124.0 379.8L185.7 380.2L175.0 404.1L180.3 376.3L156.2 396.5L153.5 364.5L150.8 389.3L142.8 390.7L121.3 382.3L134.7 385.0L124.0 395.9L177.6 349.7L255.4 389.2L164.2 375.2L217.9 397.5L263.5 401.0L177.6 394.7L153.5 377.5L150.8 402.4L161.5 356.7L145.4 403.6L188.4 382.1L185.7 382.4L156.2 407.4L134.7 386.5L148.1 385.9L193.7 395.7L156.2 360.9L124.0 377.6L148.1 406.1L129.4 373.5L199.1 409.5L124.0 375.8L142.8 393.6L164.2 403.9L145.4 383.5L150.8 403.3L118.6 318.7L137.4 388.8L183.0 403.5L124.0 335.4L150.8 385.8L134.7 381.6L134.7 386.2L175.0 389.7L126.7 398.1L185.7 397.1L260.8 387.8L175.0 383.8L129.4 378.2L183.0 400.1L126.7 397.4L153.5 399.2L129.4 407.1L134.7 389.5L175.0 400.5L132.0 389.5L140.1 350.6L188.4 396.3L129.4 403.7L191.0 374.9L145.4 370.4L140.1 400.5L161.5 397.9L188.4 397.8L145.4 406.1L142.8 395.2L153.5 390.3L121.3 388.3L124.0 338.6L137.4 399.9L156.2 380.0L175.0 395.5L124.0 389.2L140.1 387.5L129.4 389.5L250.1 392.8L142.8 371.4L169.6 383.4L124.0 402.5L132.0 394.5L252.7 384.8L156.2 360.7L199.1 380.2L166.9 385.5L129.4 385.5L134.7 407.5L150.8 391.1L169.6 406.5L142.8 391.7L126.7 372.3L239.3 388.0L145.4 409.5L164.2 386.4L124.0 377.7L126.7 395.1L166.9 346.6L142.8 397.8L161.5 401.3L150.8 391.3L225.9 394.6L145.4 369.7L129.4 405.8L129.4 397.0L137.4 396.2L140.1 381.7L164.2 371.0L132.0 400.7L129.4 379.7L161.5 395.8L175.0 373.8L137.4 375.1L126.7 391.9L177.6 391.9L242.0 383.2L132.0 398.1L175.0 403.9L132.0 327.3L134.7 395.5L142.8 378.4L142.8 389.2L153.5 399.2L142.8 383.6L134.7 384.9L212.5 383.3L180.3 403.3L142.8 388.7L148.1 394.2L180.3 399.8L129.4 376.6L156.2 353.5L132.0 394.4L140.1 377.1L118.6 399.8L175.0 375.5L129.4 398.5L137.4 377.4L156.2 388.6L124.0 391.3L126.7 395.8L121.3 381.4L156.2 398.0L134.7 386.8L134.7 404.4L148.1 401.3L134.7 395.9L169.6 389.8L164.2 389.6L142.8 405.0L153.5 376.8L156.2 403.6L145.4 392.4L142.8 397.5L169.6 371.0L158.9 392.1L158.9 401.0L140.1 396.6L193.7 379.3L148.1 390.1L134.7 384.9L121.3 403.8L134.7 348.2L142.8 404.0L153.5 326.5L166.9 392.4L150.8 376.8L169.6 403.6L180.3 403.0L183.0 387.8L148.1 379.1L191.0 354.9L164.2 385.3L126.7 370.5L148.1 387.4L148.1 342.0L161.5 368.9L150.8 397.3L145.4 400.3L153.5 396.0L132.0 378.5L185.7 359.9L177.6 399.8L172.3 361.0L140.1 390.0L153.5 400.3L134.7 403.1L118.6 396.5L153.5 383.0L153.5 397.8L153.5 397.5L191.0 366.9L132.0 375.8L148.1 391.1L201.8 392.8L161.5 399.7L164.2 393.7L124.0 403.0L196.4 411.7L140.1 345.2L158.9 385.1L134.7 376.3L140.1 377.9L148.1 405.4L191.0 345.3L150.8 336.3L145.4 402.9L145.4 360.0L180.3 405.1L169.6 392.4L156.2 403.9L118.6 380.8L137.4 393.6L172.3 362.7L129.4 385.7L129.4 395.7L137.4 313.5L164.2 380.9L188.4 382.6L177.6 363.2L126.7 390.9L124.0 372.1L158.9 367.2L161.5 367.0L129.4 369.5L137.4 393.1L145.4 339.8L121.3 396.6L166.9 392.3L129.4 361.7L234.0 369.2L126.7 389.2L148.1 369.1L145.4 394.3L129.4 397.4L242.0 402.9L201.8 401.9L185.7 361.3L153.5 373.0L164.2 400.3L145.4 357.0L142.8 384.1L153.5 395.9L161.5 394.1L161.5 370.0L161.5 401.2L126.7 394.5L148.1 402.5L129.4 395.0L140.1 395.3L153.5 409.0L132.0 391.6L150.8 376.0L126.7 397.6L134.7 401.7L158.9 391.6L175.0 389.9L140.1 397.8L129.4 399.3L142.8 377.6L153.5 348.2L132.0 385.5L150.8 393.4L129.4 403.7L175.0 388.5L137.4 407.5L140.1 385.4L175.0 382.6L129.4 374.7L145.4 388.9L156.2 387.5L193.7 390.3L137.4 368.2L177.6 382.6L134.7 360.7L126.7 394.8L164.2 384.7L118.6 379.5L121.3 403.0L126.7 391.4L137.4 334.3L260.8 387.7L129.4 391.9L126.7 400.6L156.2 361.0L183.0 396.4L164.2 402.3L129.4 346.8L121.3 402.7L169.6 399.7L126.7 400.0L129.4 376.0L140.1 383.2L121.3 365.5L169.6 390.3L180.3 396.0L140.1 364.8L158.9 400.1L175.0 390.7L132.0 396.8L115.9 384.3L140.1 386.7L129.4 367.1L142.8 347.1L137.4 364.6L148.1 394.9L142.8 399.6L134.7 395.1L137.4 384.1L137.4 375.2L115.9 335.5L134.7 381.3L148.1 369.2L183.0 400.3L126.7 375.0L183.0 385.6L164.2 371.5L193.7 408.3L137.4 384.8L156.2 397.5L164.2 394.7L161.5 379.1L169.6 391.1L177.6 384.0L199.1 399.8L169.6 390.7L124.0 381.1L110.6 402.4L164.2 406.9L121.3 383.6L199.1 406.9L158.9 353.8L142.8 390.9L132.0 381.5L166.9 396.8L148.1 401.7L172.3 377.4L132.0 389.6L156.2 378.8L191.0 375.9L145.4 371.9L142.8 392.0L142.8 407.5L156.2 377.4L132.0 399.2L140.1 382.8L118.6 402.3L177.6 401.3L158.9 372.2L153.5 390.3L172.3 403.7L115.9 375.8L193.7 404.8L129.4 357.2L175.0 397.8L153.5 406.4L164.2 396.7L124.0 389.8L132.0 379.7L140.1 398.0L150.8 383.7L145.4 399.1L166.9 394.5L142.8 393.6L126.7 384.7L153.5 399.6L161.5 400.2L142.8 363.6L175.0 369.4L169.6 404.4L153.5 389.8L161.5 403.2L215.2 413.7L164.2 372.4L166.9 409.1L121.3 394.8L153.5 388.8L137.4 400.3L156.2 343.7L172.3 407.2L145.4 365.4L145.4 392.0L124.0 396.5L137.4 399.1L129.4 349.3L113.3 363.5L140.1 391.0L175.0 370.1L132.0 395.8L156.2 384.3L169.6 397.3L121.3 388.5L137.4 401.2L137.4 390.0L158.9 378.6L156.2 392.7L161.5 378.5L145.4 400.2L145.4 355.2L137.4 395.8L142.8 406.1L142.8 360.3L166.9 405.1L124.0 398.7L177.6 386.1L193.7 401.2L145.4 397.7L132.0 393.1L158.9 365.6L134.7 389.6L185.7 396.1L158.9 400.0L172.3 384.0L156.2 388.3L129.4 371.7L188.4 395.0L164.2 369.3L156.2 350.9L158.9 399.4L166.9 367.4L172.3 395.9L148.1 393.6L145.4 405.2L156.2 407.6L148.1 401.6L164.2 410.7L193.7 401.2L134.7 401.0L121.3 398.0L201.8 390.8L209.8 392.2L134.7 386.0L137.4 348.5L153.5 385.6L169.6 358.0L191.0 371.8L158.9 387.9L126.7 358.5L129.4 363.3L140.1 380.3L169.6 374.2L132.0 391.3L132.0 390.6L140.1 407.6L142.8 388.4L172.3 379.7L220.6 399.1L142.8 381.2L124.0 394.0L148.1 397.4L148.1 392.8L148.1 395.8L121.3 387.9L236.7 402.7L121.3 360.1L153.5 326.8L126.7 396.3L166.9 392.9L140.1 368.8L153.5 398.2L121.3 402.9L164.2 390.7L201.8 403.6L132.0 357.2L126.7 360.3L158.9 398.5L137.4 401.1L188.4 404.2L148.1 395.5L129.4 365.5L153.5 408.3L126.7 402.3L156.2 314.8L142.8 398.8L212.5 363.4L175.0 394.9L150.8 382.8L137.4 385.9L129.4 381.1L150.8 350.9L185.7 361.9L156.2 376.0L201.8 395.3L148.1 375.8L140.1 402.6L137.4 393.3L156.2 402.8L199.1 391.8L169.6 382.7L158.9 379.0L161.5 362.1L129.4 374.8L158.9 388.8L166.9 391.9L193.7 401.8L137.4 402.1L175.0 401.9L242.0 393.4L140.1 395.1L118.6 388.0L140.1 373.4L137.4 390.2L150.8 368.3L150.8 405.4L191.0 401.3L161.5 393.8L148.1 366.9L132.0 398.3L180.3 404.8L145.4 342.3L134.7 384.7L164.2 402.8L137.4 382.5L204.5 404.4L145.4 387.7L134.7 398.1L166.9 389.2L158.9 398.0L169.6 393.5L148.1 397.9L164.2 380.9L185.7 403.4L148.1 382.5L124.0 383.3L148.1 399.2L118.6 403.5L166.9 364.4L134.7 374.8L158.9 321.2L132.0 389.6L115.9 389.2L140.1 376.8L234.0 408.8L191.0 401.1L140.1 400.0L263.5 411.5L185.7 394.1L156.2 375.9L175.0 399.2L118.6 376.3L126.7 387.4L140.1 401.6L193.7 358.6L126.7 383.6L118.6 408.0L156.2 395.8L129.4 399.3L126.7 395.8L199.1 392.0L134.7 386.8L193.7 398.9L148.1 393.0L132.0 383.2L196.4 377.1L150.8 366.3L169.6 386.8L166.9 400.4L158.9 367.1L140.1 353.6L169.6 375.2L175.0 384.8L188.4 401.3L148.1 330.4L140.1 403.3L126.7 350.2L150.8 377.7L191.0 413.0L140.1 379.7L180.3 378.2L150.8 371.0L134.7 385.1L225.9 348.8L124.0 402.5L242.0 377.1L118.6 401.7L166.9 390.2L113.3 378.3L247.4 400.6L142.8 400.6L145.4 387.4L150.8 402.5L121.3 393.7L169.6 347.7L142.8 397.2L129.4 394.5L169.6 356.9L140.1 353.4L134.7 356.4L137.4 402.2L183.0 373.0L137.4 389.5L183.0 407.8L134.7 388.6L148.1 386.8L156.2 399.1L164.2 404.2L137.4 391.3L164.2 385.1L164.2 377.6L129.4 383.2L180.3 389.3L140.1 380.8L134.7 404.5L132.0 399.0L156.2 386.4L153.5 379.1L169.6 411.0L193.7 390.5L158.9 404.0L161.5 377.9L153.5 374.6L169.6 364.0L161.5 329.6L156.2 389.1L132.0 396.3L150.8 391.2L161.5 376.1L188.4 366.7L161.5 371.7L153.5 382.3L158.9 409.2L156.2 372.3L201.8 393.1L137.4 406.0L148.1 405.2L129.4 405.3L201.8 388.1L126.7 381.5L153.5 359.3L158.9 382.3L142.8 401.1L156.2 383.3L129.4 396.8L169.6 396.1L153.5 383.0L156.2 398.9L228.6 322.9L140.1 347.7L153.5 368.8L124.0 399.3L180.3 398.4L166.9 364.4L124.0 372.7L121.3 399.4L129.4 394.9L142.8 364.4L150.8 367.4L166.9 363.8L148.1 408.3L177.6 381.9L166.9 369.8L164.2 369.2L193.7 391.5L113.3 392.4L150.8 356.9L137.4 388.4L142.8 403.4L148.1 363.3L196.4 404.4L126.7 391.8L126.7 314.5L148.1 362.7L142.8 398.1L177.6 364.9L225.9 399.9L158.9 399.4L118.6 381.4L169.6 382.6L175.0 411.8L204.5 390.4L137.4 383.4L140.1 390.5L124.0 400.1L156.2 400.9L169.6 381.4L180.3 391.5L140.1 373.3L137.4 392.8L193.7 390.8L156.2 406.8L142.8 390.4L145.4 405.8L169.6 388.0L153.5 402.8L204.5 386.6L134.7 346.2L129.4 396.3L164.2 408.8L142.8 402.3L158.9 398.7L129.4 386.9L185.7 379.4L175.0 387.1L156.2 395.7L252.7 323.0L164.2 387.5L172.3 386.0L166.9 381.4L137.4 359.4L156.2 384.8L150.8 362.7L164.2 406.1L158.9 404.6L183.0 402.1L134.7 387.5L148.1 391.4L140.1 363.8L180.3 399.8L148.1 374.3L134.7 386.1L166.9 363.3L156.2 408.1L142.8 406.9L185.7 409.3L121.3 384.1L124.0 391.3L126.7 342.7L225.9 386.3L153.5 340.9L121.3 359.1L156.2 386.6L164.2 342.7L161.5 409.8L148.1 389.2L115.9 396.2L145.4 386.9L145.4 393.9L164.2 377.4L129.4 400.8L191.0 343.7L137.4 396.0L158.9 397.7L150.8 387.3L134.7 365.3L129.4 390.1L239.3 403.0L156.2 401.5L137.4 388.0L150.8 383.3L124.0 405.8L169.6 396.3L121.3 384.3L137.4 398.1L137.4 349.1L158.9 339.7L153.5 400.9L209.8 389.7L140.1 353.2L140.1 367.1L142.8 390.5L158.9 387.8L153.5 366.9L145.4 393.8L145.4 362.2L126.7 377.0L140.1 383.9L145.4 406.6L185.7 406.4L156.2 383.4L231.3 359.2L148.1 407.8L142.8 348.9L175.0 369.4L137.4 370.7L153.5 392.9L158.9 353.2L166.9 386.5L142.8 383.1L172.3 335.7L158.9 364.6L180.3 365.2L183.0 407.9L134.7 404.6L148.1 387.9L191.0 377.4L118.6 368.8L153.5 390.0L137.4 405.1L166.9 397.5L134.7 397.5L161.5 391.3L126.7 404.8L156.2 360.4L212.5 394.3L148.1 397.1L234.0 402.2L166.9 381.9L156.2 383.9L204.5 394.0L175.0 375.4L113.3 363.1L225.9 397.3L183.0 397.4L172.3 363.1L228.6 364.9L169.6 340.8L134.7 365.6L142.8 381.3L142.8 374.6L118.6 350.6L158.9 386.8L124.0 373.9L137.4 382.0L129.4 372.1L204.5 393.1L201.8 370.2L150.8 363.9L142.8 394.9L124.0 398.2L164.2 404.8L137.4 374.1L121.3 385.9L169.6 399.7L164.2 401.9L175.0 385.3L156.2 382.7L134.7 379.9L145.4 397.6L188.4 397.2L148.1 376.0L142.8 373.3L137.4 400.8L156.2 392.1L164.2 399.9L145.4 390.5L161.5 364.0L153.5 405.1L169.6 400.6L134.7 391.9L126.7 406.3L153.5 401.9L145.4 397.7L148.1 386.8L148.1 378.1L121.3 385.5L158.9 395.2L161.5 396.2L124.0 401.7L175.0 392.8L142.8 376.8L99.8 372.3L183.0 396.1L132.0 381.0L137.4 373.5L169.6 359.2L150.8 393.4" fill="none" stroke="none" marker-start="url(#m)" marker-mid="url(#m)" marker-end="url(#m)"/>
<line x1="75.7" y1="379.3" x2="290.3" y2="396.7" stroke="#6a6a6a" stroke-width="0.9"/>
<rect x="75.7" y="286.4" width="214.6" height="155.8" fill="none" stroke="#8c8c8c" stroke-width="1"/>
<path d="M75.7 442.2 v1.6 M102.5 442.2 v1.6 M129.4 442.2 v1.6 M156.2 442.2 v1.6 M183.0 442.2 v1.6 M209.8 442.2 v1.6 M236.7 442.2 v1.6 M263.5 442.2 v1.6 M290.3 442.2 v1.6 M75.7 417.6 h-1.6 M75.7 391.4 h-1.6 M75.7 365.1 h-1.6 M75.7 338.9 h-1.6 M75.7 312.6 h-1.6 M75.7 286.4 h-1.6" stroke="#8c8c8c" stroke-width="0.8" fill="none"/>
<text class="tk" x="75.7" y="452.8" text-anchor="middle">10</text><text class="tk" x="102.5" y="452.8" text-anchor="middle">20</text><text class="tk" x="129.4" y="452.8" text-anchor="middle">30</text><text class="tk" x="156.2" y="452.8" text-anchor="middle">40</text><text class="tk" x="183.0" y="452.8" text-anchor="middle">50</text><text class="tk" x="209.8" y="452.8" text-anchor="middle">60</text><text class="tk" x="236.7" y="452.8" text-anchor="middle">70</text><text class="tk" x="263.5" y="452.8" text-anchor="middle">80</text><text class="tk" x="290.3" y="452.8" text-anchor="middle">90</text>
<text class="tk" x="72.2" y="419.9" text-anchor="end">0</text><text class="tk" x="72.2" y="393.6" text-anchor="end">200</text><text class="tk" x="72.2" y="367.4" text-anchor="end">400</text><text class="tk" x="72.2" y="341.1" text-anchor="end">600</text><text class="tk" x="72.2" y="314.9" text-anchor="end">800</text><text class="tk" x="72.2" y="288.6" text-anchor="end">1000</text>
<text class="al" x="182.5" y="465.0" text-anchor="middle">Age</text>
<text class="al" transform="translate(50.9 364.0) rotate(-90)" x="-56.7" textLength="113.4" lengthAdjust="spacingAndGlyphs">CD4+CD45RA+CD62L+ T (cells/ul)</text>
</g>
<text class="an" x="158.6" y="316.0" textLength="115.3" lengthAdjust="spacingAndGlyphs"><tspan font-style="italic">r</tspan>=−0.182, <tspan font-style="italic">P</tspan>&lt;0.001</text>
<text class="lt" x="187.0" y="497.8" text-anchor="middle">D</text>
</g>
<g id="panelE">
<g filter="url(#bl)">
<path d="M428.8 339.3L493.8 331.0L420.6 332.2L412.5 323.6L420.6 323.4L504.6 327.6L501.9 352.2L472.1 336.9L458.6 341.2L447.7 334.3L434.2 325.6L474.8 324.1L434.2 331.8L426.1 328.6L426.1 332.9L447.7 346.9L431.5 331.9L482.9 347.4L426.1 323.5L436.9 322.2L531.7 355.0L434.2 320.6L417.9 338.6L482.9 335.0L447.7 341.4L461.3 329.7L409.8 331.7L450.4 324.1L426.1 332.2L442.3 353.7L445.0 328.8L434.2 336.3L431.5 378.7L431.5 324.9L480.2 322.5L447.7 331.6L436.9 335.9L423.4 330.0L434.2 339.3L458.6 323.7L450.4 353.0L458.6 337.9L461.3 327.2L445.0 326.0L447.7 322.7L431.5 325.4L445.0 330.3L415.2 326.9L455.8 347.9L426.1 373.7L455.8 328.2L434.2 323.4L431.5 327.8L431.5 327.8L455.8 330.4L469.4 336.6L453.1 324.9L415.2 345.4L480.2 320.8L434.2 349.1L447.7 326.9L480.2 320.8L488.3 351.4L417.9 335.1L431.5 330.4L423.4 321.9L415.2 336.0L434.2 336.0L472.1 334.6L445.0 342.0L426.1 334.7L431.5 398.3L480.2 332.2L426.1 329.2L469.4 337.9L461.3 320.6L491.0 331.7L436.9 323.1L426.1 333.0L431.5 324.3L493.8 332.6L491.0 329.5L420.6 321.4L453.1 331.9L482.9 330.6L512.7 329.2L447.7 332.7L445.0 340.2L434.2 322.7L434.2 338.2L482.9 410.0L455.8 326.7L455.8 324.9L426.1 332.9L510.0 331.2L415.2 325.1L417.9 324.6L431.5 337.6L420.6 350.2L469.4 333.7L542.5 331.2L434.2 334.4L442.3 334.5L466.7 337.5L458.6 351.1L450.4 327.1L426.1 341.8L466.7 320.6L417.9 325.6L534.4 362.5L464.0 325.8L423.4 335.2L431.5 326.2L464.0 323.5L417.9 324.5L415.2 330.6L461.3 321.0L553.3 328.2L431.5 326.5L466.7 327.4L439.6 343.2L417.9 320.9L390.9 325.3L426.1 325.3L447.7 329.2L431.5 350.5L445.0 346.6L415.2 347.4L447.7 323.8L426.1 323.3L464.0 331.0L409.8 327.2L445.0 333.3L417.9 324.1L447.7 346.1L553.3 341.5L485.6 326.3L423.4 336.2L453.1 326.4L466.7 327.5L453.1 339.7L428.8 321.0L417.9 322.2L434.2 323.7L450.4 334.2L426.1 324.8L455.8 352.2L436.9 329.8L420.6 320.6L423.4 361.9L420.6 324.1L496.5 334.4L439.6 332.4L447.7 330.4L434.2 336.4L461.3 394.4L415.2 329.3L453.1 325.7L428.8 351.7L439.6 321.7L461.3 328.4L436.9 328.3L458.6 326.5L442.3 323.3L461.3 323.7L453.1 340.2L445.0 323.5L447.7 328.7L477.5 343.0L442.3 324.5L412.5 325.9L442.3 340.4L428.8 347.3L458.6 330.0L485.6 354.9L447.7 352.0L428.8 339.4L439.6 326.4L426.1 321.2L458.6 334.0L428.8 335.5L450.4 327.3L436.9 341.8L420.6 331.7L412.5 355.8L466.7 329.4L442.3 333.8L450.4 328.8L417.9 342.4L461.3 322.9L482.9 344.2L464.0 335.7L434.2 349.0L458.6 375.6L472.1 333.9L431.5 332.5L412.5 326.1L464.0 326.6L417.9 323.0L477.5 332.3L415.2 327.5L480.2 331.7L453.1 335.3L466.7 329.9L450.4 343.5L423.4 322.4L526.2 328.5L458.6 335.4L545.2 329.8L453.1 324.3L420.6 322.1L428.8 329.0L423.4 329.1L461.3 327.6L466.7 327.6L455.8 348.2L469.4 327.0L442.3 326.8L458.6 324.3L491.0 330.1L420.6 328.9L450.4 325.6L417.9 332.5L412.5 338.3L442.3 348.0L407.1 339.2L417.9 322.7L431.5 322.7L439.6 332.6L409.8 339.7L434.2 329.0L434.2 331.4L453.1 327.6L431.5 330.5L434.2 321.8L480.2 320.9L417.9 329.5L491.0 324.7L447.7 337.8L409.8 335.4L466.7 335.8L428.8 338.7L445.0 320.6L450.4 325.1L461.3 325.5L447.7 326.5L420.6 341.1L480.2 332.2L423.4 323.9L412.5 333.8L423.4 322.7L472.1 347.4L445.0 333.7L466.7 324.3L415.2 321.6L431.5 328.0L455.8 323.3L409.8 321.9L458.6 322.6L412.5 325.4L439.6 332.9L453.1 330.4L439.6 328.4L415.2 336.2L442.3 330.9L423.4 340.2L434.2 321.4L436.9 339.6L477.5 346.7L436.9 322.2L412.5 332.4L453.1 324.6L417.9 338.3L436.9 324.0L453.1 325.1L445.0 332.6L461.3 328.1L472.1 349.2L529.0 327.0L434.2 322.6L434.2 345.6L474.8 342.5L445.0 327.3L431.5 330.9L496.5 330.8L442.3 333.0L445.0 325.2L466.7 323.6L428.8 326.7L447.7 326.1L445.0 322.8L409.8 320.6L466.7 332.1L474.8 388.9L417.9 334.0L531.7 335.8L466.7 327.8L436.9 323.0L415.2 322.3L420.6 327.8L409.8 335.1L461.3 352.9L455.8 382.2L426.1 359.5L493.8 353.2L412.5 323.7L439.6 347.0L445.0 353.2L482.9 323.5L442.3 349.5L415.2 331.4L420.6 326.8L442.3 323.7L428.8 333.4L417.9 322.3L431.5 348.0L477.5 329.4L417.9 374.1L423.4 330.0L491.0 351.5L453.1 321.3L426.1 342.8L428.8 345.4L461.3 342.3L482.9 321.7L442.3 329.1L455.8 325.5L409.8 339.5L477.5 335.1L447.7 320.6L415.2 351.6L439.6 321.7L491.0 344.1L431.5 335.7L458.6 328.1L458.6 322.1L447.7 346.8L439.6 327.7L436.9 330.8L477.5 323.2L455.8 350.9L477.5 330.1L450.4 326.4L439.6 322.4L518.1 352.8L442.3 327.5L423.4 333.4L455.8 397.5L442.3 321.0L455.8 336.0L447.7 342.1L439.6 324.9L520.8 327.6L442.3 323.3L518.1 324.8L420.6 343.4L431.5 328.2L461.3 339.6L493.8 343.0L439.6 327.2L455.8 323.2L434.2 331.1L450.4 338.9L491.0 332.1L420.6 327.7L431.5 330.4L485.6 327.3L439.6 338.2L491.0 338.1L455.8 342.2L445.0 332.2L423.4 328.8L472.1 336.8L407.1 335.0L409.8 327.4L428.8 331.1L423.4 331.8L493.8 331.5L450.4 327.3L474.8 328.0L439.6 324.3L455.8 328.2L439.6 323.0L464.0 323.3L407.1 330.2L423.4 322.2L436.9 326.3L415.2 337.9L445.0 324.7L453.1 321.4L428.8 322.6L458.6 336.2L458.6 325.3L428.8 360.1L415.2 326.7L447.7 321.6L466.7 341.1L415.2 335.2L455.8 323.1L453.1 321.8L469.4 344.4L426.1 350.4L439.6 326.9L442.3 345.6L445.0 344.6L501.9 332.8L439.6 352.9L404.4 380.7L420.6 343.0L450.4 331.1L420.6 322.2L442.3 335.5L431.5 330.7L409.8 345.4L485.6 328.6L439.6 329.6L450.4 328.6L485.6 336.1L409.8 332.4L439.6 336.2L417.9 327.7L417.9 320.6L417.9 322.9L447.7 326.7L439.6 329.1L428.8 321.6L439.6 354.2L426.1 362.9L417.9 345.6L417.9 333.9L469.4 350.6L450.4 331.8L423.4 326.9L434.2 322.0L428.8 325.4L458.6 321.4L407.1 324.4L423.4 321.4L420.6 323.9L426.1 323.8L472.1 332.4L455.8 322.9L458.6 324.1L477.5 341.5L415.2 370.0L431.5 327.5L420.6 326.0L428.8 331.3L431.5 324.2L477.5 327.5L431.5 324.7L420.6 336.5L412.5 331.1L434.2 323.7L420.6 328.1L409.8 332.1L472.1 324.3L464.0 341.6L417.9 335.1L439.6 323.0L474.8 342.8L412.5 344.4L477.5 324.2L477.5 329.4L439.6 328.3L420.6 335.1L420.6 327.7L434.2 335.8L488.3 368.0L431.5 336.1L485.6 330.2L455.8 323.4L415.2 329.3L439.6 331.4L439.6 332.7L420.6 327.1L412.5 320.6L447.7 321.2L417.9 326.5L493.8 335.7L450.4 344.8L455.8 322.1L450.4 320.6L426.1 351.2L450.4 346.2L496.5 333.2L423.4 326.2L431.5 320.7L445.0 362.4L428.8 326.5L417.9 322.0L439.6 404.6L426.1 333.8L431.5 358.2L420.6 333.3L431.5 322.1L455.8 385.8L434.2 345.3L482.9 325.0L423.4 324.4L539.8 338.6L423.4 324.1L453.1 321.5L466.7 321.8L493.8 357.2L420.6 348.2L461.3 372.6L423.4 356.1L485.6 323.5L445.0 328.6L434.2 334.5L518.1 327.8L485.6 333.7L472.1 349.4L464.0 329.5L428.8 322.5L436.9 323.5L442.3 333.1L428.8 323.1L417.9 320.9L426.1 320.6L445.0 339.1L428.8 321.5L439.6 338.0L428.8 337.6L420.6 327.7L426.1 360.9L450.4 353.9L445.0 332.6L442.3 323.9L420.6 324.6L455.8 320.9L458.6 338.1L428.8 325.3L431.5 327.8L469.4 324.3L428.8 345.2L428.8 352.3L436.9 340.8L447.7 330.4L531.7 324.3L447.7 336.1L436.9 340.3L431.5 333.9L518.1 341.7L417.9 328.6L461.3 351.8L436.9 338.4L482.9 330.5L453.1 327.4L439.6 330.8L426.1 361.9L412.5 322.9L426.1 344.6L426.1 382.3L428.8 362.5L453.1 335.4L404.4 368.6L466.7 325.1L428.8 338.3L496.5 338.6L434.2 337.9L415.2 320.8L480.2 332.2L434.2 338.4L545.2 356.4L450.4 330.5L445.0 347.9L474.8 331.6L423.4 339.6L434.2 328.9L453.1 320.6L415.2 323.8L412.5 361.8L445.0 323.5L426.1 326.3L436.9 328.0L445.0 337.6L445.0 330.8L428.8 323.1L445.0 341.9L485.6 352.3L439.6 349.4L431.5 330.5L412.5 323.8L428.8 334.1L447.7 330.1L477.5 354.6L434.2 324.9L474.8 329.2L461.3 329.3L464.0 326.4L450.4 324.2L461.3 348.5L445.0 354.4L469.4 394.4L466.7 326.4L417.9 365.9L426.1 325.8L434.2 351.0L450.4 331.7L428.8 337.9L436.9 347.9L445.0 322.6L420.6 322.0L417.9 325.5L436.9 326.2L434.2 346.0L428.8 331.4L526.2 338.7L420.6 364.0L442.3 371.4L439.6 327.8L461.3 327.8L412.5 365.0L450.4 329.9L434.2 325.9L523.5 341.0L455.8 326.5L445.0 338.8L431.5 322.0L474.8 324.6L455.8 331.1L469.4 327.3L436.9 334.6L466.7 320.6L442.3 368.4L434.2 330.0L426.1 366.8L420.6 336.8L420.6 321.6L493.8 335.6L428.8 337.0L482.9 343.6L407.1 327.9L461.3 324.9L474.8 340.1L447.7 326.8L431.5 370.3L445.0 362.1L512.7 340.3L453.1 330.1L491.0 326.8L442.3 357.9L439.6 332.1L455.8 349.6L447.7 325.2L407.1 341.6L436.9 322.1L472.1 325.9L426.1 325.1L447.7 343.1L420.6 339.0L442.3 325.5L458.6 340.5L493.8 322.6L450.4 339.8L426.1 330.2L428.8 321.7L534.4 326.8L445.0 324.7L439.6 329.5L472.1 334.5L428.8 324.6L477.5 323.4L464.0 324.2L412.5 320.6L420.6 320.6L436.9 328.5L439.6 323.5L431.5 322.2L442.3 323.6L461.3 328.5L436.9 339.3L477.5 334.1L417.9 360.0L436.9 337.5L431.5 324.5L436.9 354.8L461.3 321.6L455.8 325.0L431.5 342.7L520.8 432.8L450.4 326.2L439.6 323.5L482.9 347.5L439.6 323.8L450.4 323.6L445.0 333.5L447.7 335.0L420.6 342.7L434.2 334.1L423.4 334.9L428.8 324.6L447.7 320.9L431.5 348.7L434.2 323.7L458.6 332.9L439.6 331.1L428.8 321.5L447.7 337.7L407.1 322.8L428.8 327.5L493.8 361.6L455.8 337.8L472.1 324.1L447.7 326.5L415.2 326.5L423.4 321.1L431.5 331.5L415.2 326.7L453.1 327.4L556.0 329.2L401.7 325.3L428.8 345.0L447.7 320.6L431.5 327.5L461.3 324.4L461.3 353.3L426.1 321.7L439.6 328.6L442.3 338.8L450.4 331.2L466.7 344.1L450.4 328.7L415.2 333.9L504.6 330.6L453.1 326.8L439.6 337.8L417.9 343.4L420.6 349.9L436.9 332.8L480.2 324.0L417.9 343.5L434.2 340.7L423.4 321.7L426.1 323.4L464.0 324.1L445.0 353.4L428.8 327.4L434.2 341.6L415.2 332.0L447.7 322.1L412.5 336.6L436.9 321.4L431.5 348.8L436.9 323.6L417.9 337.5L415.2 327.5L434.2 341.0L461.3 362.2L453.1 332.9L464.0 342.2L434.2 353.5L504.6 381.1L420.6 320.6L439.6 326.3L423.4 331.3L409.8 355.7L420.6 329.0L445.0 344.1L469.4 328.6L447.7 320.9L436.9 320.6L466.7 332.9L547.9 327.7L415.2 341.6L477.5 321.0L472.1 366.9L450.4 331.8L415.2 327.1L464.0 330.4L426.1 322.5L442.3 336.1L431.5 334.7L439.6 335.1L409.8 329.1L434.2 339.6L450.4 320.6L439.6 337.9L464.0 333.9L439.6 323.2L442.3 352.9L412.5 328.3L458.6 327.9L417.9 329.6L417.9 327.1L423.4 357.0L526.2 325.5L466.7 322.4L436.9 342.9L461.3 329.3L428.8 350.7L434.2 332.1L447.7 327.4L466.7 325.2L428.8 341.7L426.1 325.6L434.2 349.5L426.1 320.6L453.1 353.1L420.6 324.1L450.4 321.2L534.4 331.5L434.2 337.0L474.8 326.3L442.3 332.0L434.2 335.5L466.7 326.7L417.9 342.7L461.3 331.0L442.3 381.3L501.9 330.4L455.8 336.3L431.5 320.6L466.7 389.7L428.8 330.5L485.6 323.8L428.8 340.8L447.7 321.6L447.7 321.6L428.8 329.3L426.1 329.7L447.7 326.9L461.3 324.2L447.7 338.1L417.9 336.4L434.2 325.8L450.4 332.0L439.6 350.4L455.8 335.0L477.5 323.6L436.9 334.0L428.8 328.6L420.6 325.0L423.4 335.3L426.1 343.4L409.8 320.6L442.3 324.6L428.8 329.5L485.6 325.1L439.6 322.6L445.0 332.5L426.1 320.7L455.8 359.4L442.3 342.3L488.3 390.5L450.4 337.7L436.9 344.6L423.4 323.6L409.8 342.9L458.6 366.5L412.5 325.5L412.5 327.6L445.0 329.1L458.6 340.0L431.5 324.9L472.1 342.0L447.7 327.2L518.1 337.6L531.7 348.9L423.4 325.9L442.3 328.4L474.8 329.6L466.7 330.3L426.1 324.3L436.9 321.2L436.9 323.1L434.2 329.9L415.2 324.5L466.7 340.9L442.3 328.4L436.9 337.7L436.9 334.3L434.2 325.5L455.8 327.7L472.1 336.1L423.4 329.5L455.8 325.5L482.9 339.3L428.8 341.7L439.6 330.1L409.8 322.6L482.9 323.9L426.1 357.1L472.1 341.1L434.2 329.5L431.5 321.6L488.3 323.1L469.4 323.6L445.0 341.7L458.6 320.6L415.2 348.4L447.7 320.6L474.8 382.2L472.1 327.9L480.2 331.1L412.5 331.0L420.6 323.9L534.4 355.5L436.9 329.9L442.3 349.7L420.6 339.3L482.9 330.5L436.9 328.7L404.4 341.8L415.2 341.9L426.1 321.7L439.6 335.3L461.3 326.4L474.8 329.3L428.8 333.8L455.8 323.1L420.6 326.7L442.3 328.9L434.2 326.7L412.5 331.2L404.4 327.5L447.7 322.8L453.1 328.1L450.4 334.2L412.5 330.5L420.6 322.3L447.7 356.9L420.6 327.2L420.6 334.4L442.3 378.8L466.7 328.7L461.3 330.8L417.9 331.7L453.1 323.1L415.2 327.7L450.4 321.4L461.3 343.5L420.6 327.5L426.1 322.2L431.5 334.4L445.0 320.6L439.6 322.7L434.2 325.3L480.2 399.9L496.5 334.3L482.9 326.8L455.8 324.8L415.2 323.4L428.8 327.4L423.4 333.6L436.9 322.7L423.4 352.5L466.7 345.0L426.1 369.7L464.0 326.6L458.6 321.6L417.9 354.2L461.3 335.0L409.8 326.3L434.2 320.8L428.8 331.0L496.5 324.3L431.5 324.9L434.2 330.5L445.0 321.8L412.5 342.7L404.4 345.8L447.7 332.7L434.2 352.6L482.9 324.4L431.5 358.5L420.6 339.5L412.5 321.8L445.0 332.5L450.4 326.2L455.8 322.5L420.6 330.1L485.6 323.7L415.2 330.7L436.9 320.7L450.4 343.3L447.7 333.6L439.6 344.0L415.2 322.3L461.3 365.7L469.4 325.9L485.6 328.2L445.0 338.5L417.9 324.1L420.6 335.9L556.0 334.2L507.3 346.0L417.9 346.0L436.9 325.2L445.0 321.9L434.2 325.0L409.8 338.2L482.9 322.1L455.8 328.3L423.4 337.9L445.0 320.6L447.7 329.3L461.3 344.7" fill="none" stroke="none" marker-start="url(#m)" marker-mid="url(#m)" marker-end="url(#m)"/>
<line x1="366.5" y1="331.4" x2="583.1" y2="346.4" stroke="#6a6a6a" stroke-width="0.9"/>
<rect x="366.5" y="288.6" width="216.6" height="156.7" fill="none" stroke="#8c8c8c" stroke-width="1"/>
<path d="M366.5 445.3 v1.6 M393.6 445.3 v1.6 M420.6 445.3 v1.6 M447.7 445.3 v1.6 M474.8 445.3 v1.6 M501.9 445.3 v1.6 M529.0 445.3 v1.6 M556.0 445.3 v1.6 M583.1 445.3 v1.6 M366.5 445.3 h-1.6 M366.5 414.0 h-1.6 M366.5 382.6 h-1.6 M366.5 351.3 h-1.6 M366.5 319.9 h-1.6 M366.5 288.6 h-1.6" stroke="#8c8c8c" stroke-width="0.8" fill="none"/>
<text class="tk" x="366.5" y="456.4" text-anchor="middle">10</text><text class="tk" x="393.6" y="456.4" text-anchor="middle">20</text><text class="tk" x="420.6" y="456.4" text-anchor="middle">30</text><text class="tk" x="447.7" y="456.4" text-anchor="middle">40</text><text class="tk" x="474.8" y="456.4" text-anchor="middle">50</text><text class="tk" x="501.9" y="456.4" text-anchor="middle">60</text><text class="tk" x="529.0" y="456.4" text-anchor="middle">70</text><text class="tk" x="556.0" y="456.4" text-anchor="middle">80</text><text class="tk" x="583.1" y="456.4" text-anchor="middle">90</text>
<text class="tk" x="361.6" y="447.6" text-anchor="end">20</text><text class="tk" x="361.6" y="416.2" text-anchor="end">40</text><text class="tk" x="361.6" y="384.9" text-anchor="end">60</text><text class="tk" x="361.6" y="353.5" text-anchor="end">80</text><text class="tk" x="361.6" y="322.2" text-anchor="end">100</text><text class="tk" x="361.6" y="290.9" text-anchor="end">120</text>
<text class="al" x="474.5" y="469.2" text-anchor="middle">Age</text>
<text class="al" transform="translate(345.1 366.6) rotate(-90)" x="-39.1" textLength="78.2" lengthAdjust="spacingAndGlyphs">CD4+CD28+ T ratio (%)</text>
</g>
<text class="an" x="462.3" y="310.3" textLength="115.3" lengthAdjust="spacingAndGlyphs"><tspan font-style="italic">r</tspan>=−0.136, <tspan font-style="italic">P</tspan>&lt;0.001</text>
<text class="lt" x="477.7" y="492.7" text-anchor="middle">E</text>
</g>
<g id="panelF">
<g filter="url(#bl)">
<path d="M758.7 323.3L724.5 340.6L766.6 327.2L719.2 361.4L748.2 373.1L745.5 369.9L737.6 344.7L711.3 336.9L758.7 348.0L735.0 346.6L753.4 368.8L714.0 330.1L729.8 376.9L766.6 332.1L732.4 354.7L732.4 304.8L721.9 336.5L758.7 340.6L753.4 338.4L753.4 335.4L719.2 326.8L790.3 390.7L737.6 333.5L742.9 320.8L714.0 395.4L745.5 370.8L748.2 332.8L742.9 358.1L735.0 338.8L729.8 314.4L714.0 327.3L753.4 365.3L758.7 346.7L771.9 371.6L769.2 359.9L758.7 347.4L779.7 355.7L708.7 314.4L756.1 366.9L740.3 347.3L790.3 344.6L756.1 314.2L719.2 354.7L735.0 328.5L814.0 394.7L711.3 321.4L732.4 367.3L740.3 338.9L769.2 325.3L724.5 368.1L771.9 373.0L732.4 382.0L732.4 380.9L721.9 377.6L740.3 336.5L742.9 380.2L740.3 369.9L758.7 354.3L758.7 363.4L721.9 357.2L740.3 333.5L779.7 375.9L819.2 404.6L708.7 328.6L719.2 377.5L724.5 326.8L719.2 400.9L732.4 349.7L721.9 361.0L742.9 351.4L756.1 391.1L727.1 357.1L753.4 355.0L750.8 364.3L721.9 322.9L758.7 338.9L719.2 354.0L766.6 360.7L737.6 349.9L777.1 339.1L729.8 367.7L774.5 317.7L724.5 324.3L758.7 363.2L724.5 358.7L721.9 370.7L735.0 344.5L732.4 345.1L737.6 340.1L761.3 345.3L721.9 330.9L750.8 356.3L706.1 311.0L716.6 334.3L729.8 379.9L735.0 317.7L771.9 371.8L769.2 336.4L740.3 369.5L719.2 361.7L742.9 385.1L716.6 376.4L727.1 349.5L732.4 316.3L779.7 360.0L758.7 355.7L821.8 352.6L835.0 366.4L777.1 374.3L737.6 346.8L745.5 369.0L742.9 330.3L766.6 355.5L716.6 330.6L727.1 350.0L821.8 368.7L740.3 336.7L716.6 361.4L737.6 338.1L724.5 354.1L716.6 354.9L769.2 341.7L758.7 402.0L735.0 333.3L729.8 363.9L737.6 366.8L727.1 383.5L719.2 334.9L732.4 360.3L740.3 329.8L758.7 330.3L716.6 365.9L748.2 371.0L745.5 330.8L748.2 348.4L748.2 320.5L724.5 314.8L742.9 351.2L787.6 358.5L721.9 338.1L766.6 335.0L774.5 371.1L756.1 375.8L727.1 342.6L735.0 365.1L764.0 346.4L742.9 358.6L735.0 337.1L764.0 359.7L742.9 360.2L848.2 403.6L769.2 342.1L787.6 349.8L732.4 336.5L719.2 346.5L721.9 357.3L708.7 297.8L824.5 350.1L724.5 342.9L787.6 311.2L800.8 381.2L753.4 333.6L703.4 338.4L729.8 370.4L766.6 355.1L753.4 366.0L798.2 361.9L727.1 368.1L779.7 339.6L758.7 345.1L753.4 348.9L714.0 340.2L842.9 356.4L719.2 381.3L764.0 362.1L732.4 329.4L729.8 377.2L727.1 342.1L724.5 345.6L769.2 352.4L729.8 341.1L735.0 324.9L742.9 326.9L750.8 344.3L779.7 343.2L729.8 328.8L727.1 334.9L716.6 376.2L745.5 315.9L745.5 358.8L727.1 334.6L761.3 333.3L750.8 335.9L756.1 344.2L748.2 341.8L711.3 369.0L750.8 341.5L742.9 322.9L745.5 344.7L785.0 337.4L753.4 351.6L756.1 358.9L740.3 343.7L732.4 346.3L714.0 324.8L737.6 353.0L742.9 347.1L711.3 338.8L727.1 319.9L719.2 360.3L742.9 338.7L732.4 384.1L740.3 364.4L750.8 335.4L764.0 341.0L756.1 362.6L716.6 343.3L758.7 343.6L745.5 368.2L721.9 310.1L748.2 355.1L711.3 332.2L745.5 376.4L721.9 321.5L829.7 384.5L748.2 354.9L740.3 367.6L719.2 354.4L782.4 363.2L737.6 350.0L771.9 348.6L719.2 347.0L714.0 355.6L803.4 367.6L724.5 321.3L764.0 340.2L756.1 339.6L729.8 367.4L735.0 340.4L719.2 325.9L716.6 336.5L742.9 356.4L740.3 330.3L785.0 350.1L727.1 346.1L745.5 384.2L716.6 323.1L732.4 368.6L732.4 349.3L714.0 322.2L740.3 356.8L737.6 332.2L719.2 339.3L719.2 338.8L716.6 361.1L721.9 335.0L748.2 346.0L771.9 340.7L729.8 350.6L729.8 359.9L729.8 336.2L732.4 334.1L742.9 331.1L745.5 324.7L756.1 362.1L727.1 388.8L727.1 370.1L719.2 328.8L756.1 369.3L740.3 364.9L745.5 342.7L756.1 352.4L719.2 339.0L735.0 346.7L729.8 391.9L756.1 373.7L745.5 348.1L708.7 357.4L737.6 381.5L708.7 350.4L750.8 338.1L816.6 353.3L708.7 354.3L721.9 306.1L735.0 373.4L808.7 354.0L714.0 327.1L724.5 321.5L711.3 372.8L703.4 330.3L764.0 380.0L690.3 342.4L711.3 322.9L711.3 339.1L758.7 378.4L719.2 357.0L737.6 358.1L732.4 341.3L748.2 348.2L703.4 331.0L750.8 387.8L742.9 336.9L816.6 375.9L719.2 335.7L716.6 362.3L714.0 330.1L790.3 345.5L790.3 347.8L735.0 354.9L779.7 371.0L764.0 360.4L732.4 412.0L737.6 350.9L850.8 357.7L840.3 357.4L774.5 344.1L735.0 329.5L729.8 363.5L753.4 385.9L779.7 341.4L748.2 331.1L737.6 361.8L774.5 393.5L724.5 334.4L719.2 352.7L750.8 321.8L735.0 338.1L814.0 378.8L748.2 343.6L716.6 361.5L758.7 356.6L750.8 355.1L727.1 348.1L719.2 366.5L745.5 334.8L729.8 361.7L774.5 381.7L727.1 312.7L724.5 347.0L714.0 350.3L764.0 330.7L756.1 351.4L729.8 339.2L761.3 301.2L774.5 351.7L745.5 356.2L724.5 342.6L740.3 317.2L714.0 351.8L745.5 347.4L748.2 302.4L735.0 356.8L729.8 381.9L732.4 351.5L719.2 332.7L790.3 355.0L716.6 323.0L792.9 371.0L719.2 322.9L732.4 370.7L740.3 344.3L708.7 320.9L719.2 322.0L727.1 309.8L735.0 345.8L721.9 338.4L758.7 338.2L737.6 327.2L711.3 310.8L745.5 397.7L821.8 356.9L779.7 348.6L764.0 354.6L732.4 313.1L724.5 319.1L714.0 344.5L737.6 342.5L814.0 391.9L735.0 364.4L716.6 357.9L753.4 340.9L758.7 366.6L729.8 345.8L748.2 314.0L745.5 359.4L745.5 311.1L745.5 330.2L714.0 311.5L711.3 373.9L774.5 389.9L737.6 376.8L732.4 345.6L719.2 337.2L742.9 365.7L745.5 339.6L708.7 335.3L719.2 326.7L708.7 352.7L716.6 390.0L732.4 327.2L774.5 337.6L732.4 331.8L742.9 351.0L724.5 315.6L732.4 327.6L735.0 320.5L732.4 389.6L758.7 345.1L779.7 350.5L787.6 388.7L714.0 326.2L779.7 367.4L742.9 322.1L745.5 353.2L771.9 301.8L740.3 366.7L716.6 340.1L761.3 357.6L771.9 341.3L764.0 307.2L777.1 357.8L729.8 341.7L737.6 314.4L745.5 343.1L729.8 326.7L745.5 347.3L742.9 328.7L729.8 353.7L769.2 364.6L708.7 340.1L745.5 324.6L745.5 310.7L732.4 338.3L737.6 357.3L742.9 365.3L737.6 371.1L724.5 397.9L708.7 362.1L764.0 344.1L724.5 333.2L742.9 318.9L732.4 361.9L729.8 369.0L742.9 357.1L764.0 349.4L714.0 347.4L737.6 306.3L769.2 328.2L779.7 359.9L719.2 322.4L732.4 324.6L782.4 337.8L732.4 377.2L729.8 372.1L740.3 331.5L721.9 341.5L766.6 365.9L708.7 358.9L748.2 380.9L848.2 329.2L758.7 348.0L714.0 315.8L714.0 348.6L750.8 317.9L719.2 356.9L740.3 343.9L740.3 344.4L721.9 352.0L756.1 339.7L729.8 331.1L714.0 326.1L779.7 359.2L735.0 334.8L740.3 350.9L753.4 373.0L745.5 375.2L787.6 351.1L719.2 329.2L719.2 365.5L724.5 352.1L729.8 330.2L724.5 364.7L716.6 374.2L745.5 381.2L727.1 359.3L721.9 334.8L721.9 344.5L840.3 382.6L790.3 352.8L732.4 345.5L748.2 353.9L766.6 350.9L703.4 318.1L714.0 333.9L714.0 364.5L724.5 358.3L727.1 331.3L756.1 359.4L758.7 379.5L745.5 346.1L782.4 335.1L782.4 414.4L735.0 400.9L732.4 340.1L721.9 343.2L735.0 351.4L782.4 386.8L758.7 353.4L708.7 360.4L742.9 360.7L721.9 350.5L827.1 368.1L735.0 363.5L729.8 347.3L737.6 370.4L748.2 353.8L714.0 339.5L732.4 346.7L756.1 365.3L827.1 364.2L716.6 310.8L721.9 365.0L732.4 342.0L740.3 330.4L782.4 365.1L719.2 318.0L774.5 382.0L716.6 356.9L737.6 354.2L748.2 342.1L750.8 346.0L716.6 406.0L714.0 361.0L745.5 338.6L742.9 369.9L798.2 331.3L737.6 372.1L735.0 327.0L729.8 376.7L753.4 358.3L740.3 418.0L711.3 334.8L787.6 350.3L716.6 371.2L732.4 302.6L727.1 335.9L756.1 351.5L735.0 310.8L742.9 333.0L711.3 323.2L727.1 346.4L790.3 370.9L748.2 362.6L732.4 362.4L729.8 349.4L779.7 356.5L837.6 406.8L716.6 368.2L761.3 384.9L727.1 368.8L719.2 339.8L724.5 328.8L732.4 357.8L756.1 332.5L777.1 358.7L779.7 335.5L750.8 329.3L748.2 337.2L729.8 329.0L745.5 340.9L829.7 363.4L745.5 345.9L771.9 336.5L764.0 336.4L724.5 374.9L716.6 316.0L774.5 353.3L758.7 387.0L769.2 357.0L729.8 334.0L758.7 300.2L750.8 338.0L766.6 363.1L721.9 346.2L737.6 368.8L719.2 320.7L761.3 359.0L740.3 343.4L706.1 338.6L716.6 339.6L737.6 336.4L737.6 352.8L764.0 333.6L769.2 349.6L750.8 348.9L750.8 347.9L782.4 318.2L756.1 340.0L745.5 341.0L729.8 331.8L737.6 351.4L729.8 360.0L779.7 382.9L800.8 356.7L727.1 382.8L714.0 338.8L735.0 374.8L724.5 355.8L740.3 347.9L753.4 343.5L727.1 361.4L729.8 339.6L735.0 338.3L748.2 351.6L740.3 351.5L724.5 346.6L724.5 359.4L782.4 345.2L716.6 313.5L700.8 326.7L742.9 308.3L719.2 355.2L740.3 339.4L756.1 398.6L708.7 352.9L737.6 312.0L750.8 337.8L724.5 329.2L777.1 353.0L724.5 319.3L766.6 334.0L742.9 380.0L745.5 354.5L711.3 326.0L761.3 358.2L742.9 397.1L787.6 367.7L753.4 333.8L753.4 341.8L758.7 325.9L721.9 398.2L748.2 367.6L719.2 354.1L753.4 342.6L737.6 348.6L737.6 332.4L745.5 351.2L766.6 339.8L742.9 350.0L708.7 303.1L753.4 358.2L727.1 352.4L771.9 326.8L748.2 398.6L727.1 344.6L724.5 360.4L753.4 331.9L850.8 371.9L792.9 348.8L758.7 367.9L748.2 380.8L748.2 350.5L719.2 344.5L750.8 361.3L774.5 333.8L753.4 340.8L761.3 329.6L771.9 341.8L774.5 323.3L761.3 360.8L750.8 331.2L750.8 353.7L719.2 336.3L708.7 360.9L740.3 336.4L724.5 360.4L727.1 331.8L758.7 377.0L737.6 328.4L745.5 343.2L729.8 336.9L769.2 354.0L771.9 347.2L782.4 362.9L719.2 314.3L764.0 358.0L742.9 378.4L748.2 364.2L724.5 349.7L745.5 350.7L714.0 344.7L785.0 354.0L758.7 340.8L732.4 337.4L779.7 345.7L742.9 347.6L737.6 375.9L721.9 331.2L732.4 338.5L742.9 377.9L721.9 363.0L792.9 353.3L721.9 336.8L719.2 353.4L782.4 339.0L748.2 366.7L729.8 296.0L753.4 349.4L714.0 331.5L737.6 353.6L735.0 360.7L827.1 359.0L771.9 352.0L753.4 357.3L756.1 351.7L727.1 324.8L745.5 338.6L745.5 352.5L724.5 333.9L753.4 351.3L758.7 338.5L711.3 335.0L750.8 377.5L716.6 313.6L727.1 336.4L764.0 379.7L758.7 348.3L727.1 392.8L719.2 342.2L753.4 312.5L711.3 309.1L769.2 358.3L714.0 335.5L748.2 353.9L745.5 377.7L706.1 342.5L732.4 336.8L745.5 362.7L764.0 385.4L756.1 336.4L724.5 330.5L742.9 369.4L764.0 332.6L764.0 347.5L727.1 359.1L769.2 370.1L724.5 374.5L724.5 326.2L724.5 318.1L737.6 350.6L727.1 311.4L753.4 377.8L798.2 353.4L829.7 385.4L735.0 333.0L758.7 308.6L732.4 373.0L721.9 358.5L732.4 349.7L814.0 340.7L769.2 374.2L753.4 344.1L729.8 350.8L740.3 389.7L727.1 378.1L777.1 317.1L716.6 352.0L732.4 312.2L737.6 326.1L732.4 365.7L764.0 356.3L716.6 347.3L732.4 346.2L774.5 352.1L721.9 309.4L753.4 320.8L732.4 352.0L732.4 353.8L761.3 392.1L782.4 366.8L753.4 359.4L750.8 329.5L748.2 342.4L727.1 340.5L724.5 349.2L761.3 383.7L716.6 344.7L711.3 347.6L719.2 326.4L764.0 350.5L732.4 364.6L782.4 393.3L806.1 348.5L756.1 363.7L748.2 317.1L735.0 335.0L769.2 373.9L706.1 360.0L732.4 335.5L706.1 359.0L711.3 329.1L711.3 340.8L771.9 346.5L787.6 372.4L729.8 372.5L748.2 354.0L737.6 328.9L742.9 380.2L761.3 389.0L706.1 343.6L753.4 394.7L729.8 324.0L716.6 326.5L735.0 339.9L711.3 366.4L729.8 349.9L727.1 319.2L732.4 342.4L714.0 339.1L814.0 368.0L727.1 360.3L719.2 339.0L703.4 352.3L756.1 376.3L721.9 331.6L748.2 380.9L748.2 350.3L729.8 335.7L737.6 346.2L735.0 383.2L769.2 352.1L732.4 357.7L727.1 334.9L787.6 374.1L711.3 334.1L766.6 347.8L729.8 350.9L829.7 373.5L742.9 323.1L792.9 339.1L753.4 349.2L714.0 379.8L774.5 329.5L714.0 327.8L711.3 331.2L750.8 360.0L727.1 324.3L737.6 374.8L745.5 383.2L737.6 308.5L745.5 338.3L721.9 366.6L792.9 381.1L792.9 361.3L708.7 330.1L737.6 359.6L753.4 359.7L748.2 337.0L753.4 353.3L716.6 312.8L711.3 300.3L721.9 347.6L782.4 385.9L740.3 333.4L729.8 344.9L714.0 303.1L761.3 352.2L769.2 376.8L777.1 351.0L727.1 338.6L750.8 327.9L711.3 367.4L745.5 340.3L748.2 369.3L711.3 334.8L729.8 346.7L719.2 342.4L779.7 380.7L711.3 343.4L764.0 332.0L727.1 332.9L716.6 363.0L777.1 345.0L764.0 356.6L708.7 334.2L721.9 339.0L727.1 327.7L735.0 338.2L740.3 344.6L753.4 352.3L719.2 342.0L711.3 312.1L716.6 357.7L729.8 360.5L761.3 370.8L737.6 304.7L774.5 346.1L735.0 297.4L735.0 347.5L785.0 345.9L742.9 369.2L753.4 327.5L742.9 338.9L727.1 330.2L727.1 347.6L737.6 335.2L737.6 308.2L719.2 357.8L800.8 348.7L777.1 351.8L732.4 313.9L748.2 358.0L716.6 361.1L735.0 342.6L716.6 338.3L724.5 338.8L708.7 316.4L727.1 343.5L732.4 330.4L716.6 332.8L764.0 372.6L740.3 320.4L735.0 354.9L732.4 306.8L724.5 355.2L753.4 349.9L737.6 340.4L724.5 342.3L790.3 347.5L742.9 319.5L727.1 366.1L735.0 366.3L764.0 362.1L727.1 376.8L827.1 319.6L758.7 382.1L764.0 353.8L745.5 335.5L753.4 328.5L732.4 305.2L758.7 363.8L748.2 360.3L729.8 354.0L740.3 333.6L727.1 339.9L714.0 350.9L727.1 296.4L750.8 340.1L777.1 394.6L742.9 362.5L735.0 334.0L742.9 346.9L740.3 324.2L758.7 338.5L724.5 348.4L721.9 333.7L724.5 350.6L735.0 305.1L727.1 335.9L742.9 295.5L737.6 372.3L740.3 362.7L740.3 330.0L716.6 337.9L714.0 367.2L742.9 349.5L721.9 321.6L716.6 328.7L719.2 304.9L750.8 365.0L719.2 340.7L790.3 371.8L706.1 348.2L764.0 315.1L737.6 325.4L777.1 351.3L729.8 358.1L737.6 355.4L716.6 343.7L740.3 332.7L735.0 359.6L756.1 359.0L808.7 345.5L790.3 353.9L745.5 356.8L714.0 372.7L716.6 353.4L742.9 375.4L727.1 347.6L737.6 315.2L727.1 345.4L774.5 322.0L729.8 350.5L714.0 323.6L724.5 347.0L724.5 331.8L761.3 344.1L729.8 376.8L745.5 354.2L719.2 343.6" fill="none" stroke="none" marker-start="url(#m)" marker-mid="url(#m)" marker-end="url(#m)"/>
<line x1="666.6" y1="333.9" x2="877.1" y2="376.7" stroke="#6a6a6a" stroke-width="0.9"/>
<rect x="666.6" y="286.1" width="210.5" height="152.1" fill="none" stroke="#8c8c8c" stroke-width="1"/>
<path d="M666.6 438.2 v1.6 M692.9 438.2 v1.6 M719.2 438.2 v1.6 M745.5 438.2 v1.6 M771.9 438.2 v1.6 M798.2 438.2 v1.6 M824.5 438.2 v1.6 M850.8 438.2 v1.6 M877.1 438.2 v1.6 M666.6 438.2 h-1.6 M666.6 407.8 h-1.6 M666.6 377.4 h-1.6 M666.6 346.9 h-1.6 M666.6 316.5 h-1.6 M666.6 286.1 h-1.6" stroke="#8c8c8c" stroke-width="0.8" fill="none"/>
<text class="tk" x="666.6" y="449.2" text-anchor="middle">10</text><text class="tk" x="692.9" y="449.2" text-anchor="middle">20</text><text class="tk" x="719.2" y="449.2" text-anchor="middle">30</text><text class="tk" x="745.5" y="449.2" text-anchor="middle">40</text><text class="tk" x="771.9" y="449.2" text-anchor="middle">50</text><text class="tk" x="798.2" y="449.2" text-anchor="middle">60</text><text class="tk" x="824.5" y="449.2" text-anchor="middle">70</text><text class="tk" x="850.8" y="449.2" text-anchor="middle">80</text><text class="tk" x="877.1" y="449.2" text-anchor="middle">90</text>
<text class="tk" x="661.6" y="440.4" text-anchor="end">0</text><text class="tk" x="661.6" y="410.0" text-anchor="end">20</text><text class="tk" x="661.6" y="379.6" text-anchor="end">40</text><text class="tk" x="661.6" y="349.2" text-anchor="end">60</text><text class="tk" x="661.6" y="318.8" text-anchor="end">80</text><text class="tk" x="661.6" y="288.4" text-anchor="end">100</text>
<text class="al" x="771.8" y="461.4" text-anchor="middle">Age</text>
<text class="al" transform="translate(645.1 361.8) rotate(-90)" x="-38.5" textLength="76.9" lengthAdjust="spacingAndGlyphs">CD8+CD28+ T ratio (%)</text>
</g>
<text class="an" x="757.2" y="309.3" textLength="115.7" lengthAdjust="spacingAndGlyphs"><tspan font-style="italic">r</tspan>=−0.197, <tspan font-style="italic">P</tspan>&lt;0.001</text>
<text class="lt" x="778.2" y="492.5" text-anchor="middle">F</text>
</g>
</svg>
</body></html>
